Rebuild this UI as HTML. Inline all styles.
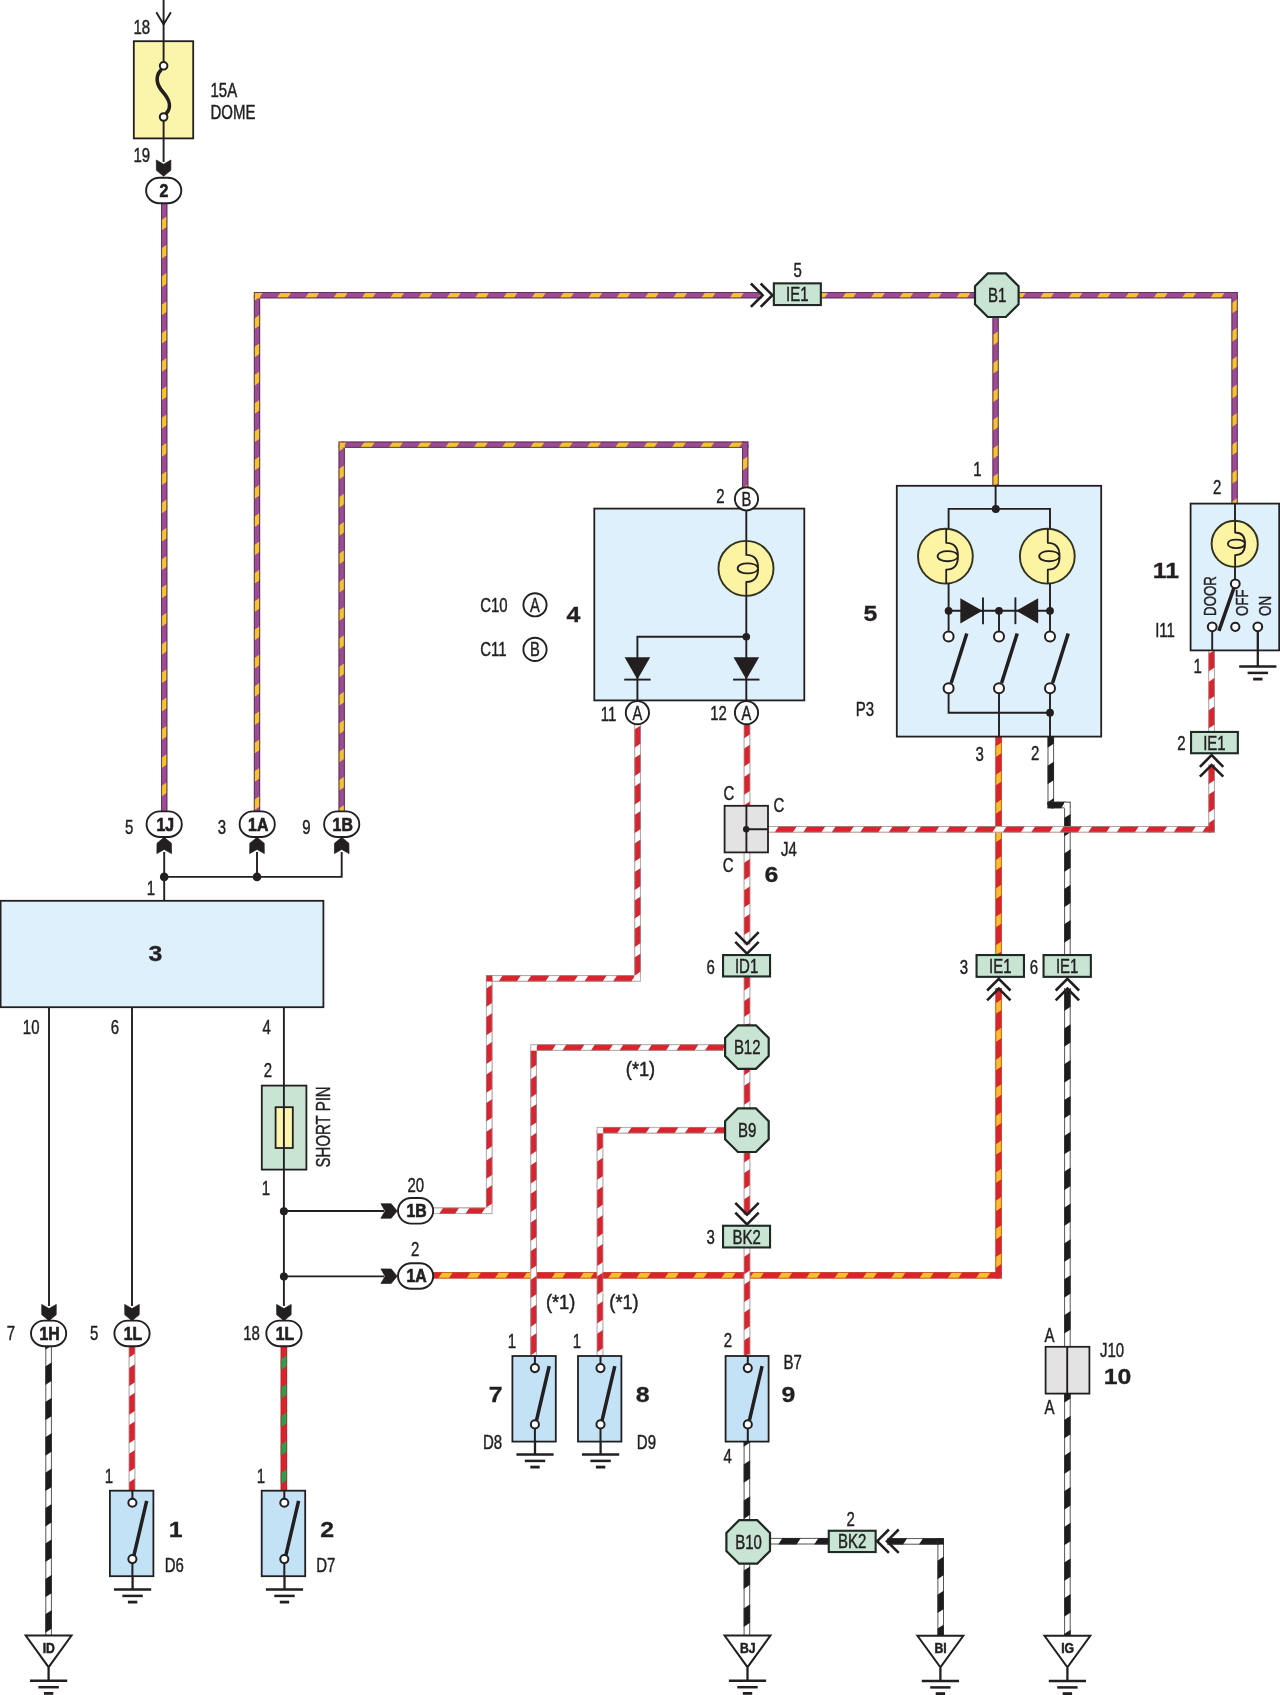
<!DOCTYPE html>
<html><head><meta charset="utf-8"><title>Wiring diagram</title>
<style>
html,body{margin:0;padding:0;background:#fff;}
svg{display:block;font-family:"Liberation Sans",sans-serif;}
</style></head>
<body>
<svg width="1280" height="1695" viewBox="0 0 1280 1695">
<rect width="1280" height="1695" fill="#ffffff"/>
<rect x="161.10" y="203.00" width="6.20" height="609.00" fill="#9c4c93"/><polygon points="161.10,220.20 167.30,216.00 167.30,226.60 161.10,230.80" fill="#f4c430"/><polygon points="161.10,248.50 167.30,244.30 167.30,254.90 161.10,259.10" fill="#f4c430"/><polygon points="161.10,276.80 167.30,272.60 167.30,283.20 161.10,287.40" fill="#f4c430"/><polygon points="161.10,305.10 167.30,300.90 167.30,311.50 161.10,315.70" fill="#f4c430"/><polygon points="161.10,333.40 167.30,329.20 167.30,339.80 161.10,344.00" fill="#f4c430"/><polygon points="161.10,361.70 167.30,357.50 167.30,368.10 161.10,372.30" fill="#f4c430"/><polygon points="161.10,390.00 167.30,385.80 167.30,396.40 161.10,400.60" fill="#f4c430"/><polygon points="161.10,418.30 167.30,414.10 167.30,424.70 161.10,428.90" fill="#f4c430"/><polygon points="161.10,446.60 167.30,442.40 167.30,453.00 161.10,457.20" fill="#f4c430"/><polygon points="161.10,474.90 167.30,470.70 167.30,481.30 161.10,485.50" fill="#f4c430"/><polygon points="161.10,503.20 167.30,499.00 167.30,509.60 161.10,513.80" fill="#f4c430"/><polygon points="161.10,531.50 167.30,527.30 167.30,537.90 161.10,542.10" fill="#f4c430"/><polygon points="161.10,559.80 167.30,555.60 167.30,566.20 161.10,570.40" fill="#f4c430"/><polygon points="161.10,588.10 167.30,583.90 167.30,594.50 161.10,598.70" fill="#f4c430"/><polygon points="161.10,616.40 167.30,612.20 167.30,622.80 161.10,627.00" fill="#f4c430"/><polygon points="161.10,644.70 167.30,640.50 167.30,651.10 161.10,655.30" fill="#f4c430"/><polygon points="161.10,673.00 167.30,668.80 167.30,679.40 161.10,683.60" fill="#f4c430"/><polygon points="161.10,701.30 167.30,697.10 167.30,707.70 161.10,711.90" fill="#f4c430"/><polygon points="161.10,729.60 167.30,725.40 167.30,736.00 161.10,740.20" fill="#f4c430"/><polygon points="161.10,757.90 167.30,753.70 167.30,764.30 161.10,768.50" fill="#f4c430"/><polygon points="161.10,786.20 167.30,782.00 167.30,792.60 161.10,796.80" fill="#f4c430"/><polygon points="161.10,812.00 167.30,810.30 167.30,812.00 161.10,812.00" fill="#f4c430"/><path d="M161.55,203.00V812.00M166.85,203.00V812.00" stroke="#5a2a58" stroke-width="0.9" fill="none"/>
<rect x="253.90" y="295.20" width="6.20" height="516.80" fill="#9c4c93"/><polygon points="253.90,295.20 260.10,295.20 260.10,296.90 253.90,301.10" fill="#f4c430"/><polygon points="253.90,318.80 260.10,314.60 260.10,325.20 253.90,329.40" fill="#f4c430"/><polygon points="253.90,347.10 260.10,342.90 260.10,353.50 253.90,357.70" fill="#f4c430"/><polygon points="253.90,375.40 260.10,371.20 260.10,381.80 253.90,386.00" fill="#f4c430"/><polygon points="253.90,403.70 260.10,399.50 260.10,410.10 253.90,414.30" fill="#f4c430"/><polygon points="253.90,432.00 260.10,427.80 260.10,438.40 253.90,442.60" fill="#f4c430"/><polygon points="253.90,460.30 260.10,456.10 260.10,466.70 253.90,470.90" fill="#f4c430"/><polygon points="253.90,488.60 260.10,484.40 260.10,495.00 253.90,499.20" fill="#f4c430"/><polygon points="253.90,516.90 260.10,512.70 260.10,523.30 253.90,527.50" fill="#f4c430"/><polygon points="253.90,545.20 260.10,541.00 260.10,551.60 253.90,555.80" fill="#f4c430"/><polygon points="253.90,573.50 260.10,569.30 260.10,579.90 253.90,584.10" fill="#f4c430"/><polygon points="253.90,601.80 260.10,597.60 260.10,608.20 253.90,612.40" fill="#f4c430"/><polygon points="253.90,630.10 260.10,625.90 260.10,636.50 253.90,640.70" fill="#f4c430"/><polygon points="253.90,658.40 260.10,654.20 260.10,664.80 253.90,669.00" fill="#f4c430"/><polygon points="253.90,686.70 260.10,682.50 260.10,693.10 253.90,697.30" fill="#f4c430"/><polygon points="253.90,715.00 260.10,710.80 260.10,721.40 253.90,725.60" fill="#f4c430"/><polygon points="253.90,743.30 260.10,739.10 260.10,749.70 253.90,753.90" fill="#f4c430"/><polygon points="253.90,771.60 260.10,767.40 260.10,778.00 253.90,782.20" fill="#f4c430"/><polygon points="253.90,799.90 260.10,795.70 260.10,806.30 253.90,810.50" fill="#f4c430"/><path d="M254.35,295.20V812.00M259.65,295.20V812.00" stroke="#5a2a58" stroke-width="0.9" fill="none"/>
<rect x="257.00" y="292.10" width="505.00" height="6.20" fill="#9c4c93"/><polygon points="257.00,292.10 263.20,292.10 259.00,298.30 257.00,298.30" fill="#f4c430"/><polygon points="280.90,292.10 291.50,292.10 287.30,298.30 276.70,298.30" fill="#f4c430"/><polygon points="309.20,292.10 319.80,292.10 315.60,298.30 305.00,298.30" fill="#f4c430"/><polygon points="337.50,292.10 348.10,292.10 343.90,298.30 333.30,298.30" fill="#f4c430"/><polygon points="365.80,292.10 376.40,292.10 372.20,298.30 361.60,298.30" fill="#f4c430"/><polygon points="394.10,292.10 404.70,292.10 400.50,298.30 389.90,298.30" fill="#f4c430"/><polygon points="422.40,292.10 433.00,292.10 428.80,298.30 418.20,298.30" fill="#f4c430"/><polygon points="450.70,292.10 461.30,292.10 457.10,298.30 446.50,298.30" fill="#f4c430"/><polygon points="479.00,292.10 489.60,292.10 485.40,298.30 474.80,298.30" fill="#f4c430"/><polygon points="507.30,292.10 517.90,292.10 513.70,298.30 503.10,298.30" fill="#f4c430"/><polygon points="535.60,292.10 546.20,292.10 542.00,298.30 531.40,298.30" fill="#f4c430"/><polygon points="563.90,292.10 574.50,292.10 570.30,298.30 559.70,298.30" fill="#f4c430"/><polygon points="592.20,292.10 602.80,292.10 598.60,298.30 588.00,298.30" fill="#f4c430"/><polygon points="620.50,292.10 631.10,292.10 626.90,298.30 616.30,298.30" fill="#f4c430"/><polygon points="648.80,292.10 659.40,292.10 655.20,298.30 644.60,298.30" fill="#f4c430"/><polygon points="677.10,292.10 687.70,292.10 683.50,298.30 672.90,298.30" fill="#f4c430"/><polygon points="705.40,292.10 716.00,292.10 711.80,298.30 701.20,298.30" fill="#f4c430"/><polygon points="733.70,292.10 744.30,292.10 740.10,298.30 729.50,298.30" fill="#f4c430"/><polygon points="762.00,292.10 762.00,292.10 762.00,298.30 757.80,298.30" fill="#f4c430"/><path d="M257.00,292.55H762.00M257.00,297.85H762.00" stroke="#5a2a58" stroke-width="0.9" fill="none"/>
<rect x="253.90" y="292.10" width="6.20" height="6.20" fill="#f4c430"/>
<path d="M260.10,292.55H253.90M254.35,298.30V292.10" stroke="#5a2a58" stroke-width="0.9" fill="none"/>
<rect x="821.40" y="292.10" width="153.60" height="6.20" fill="#9c4c93"/><polygon points="821.40,292.10 828.40,292.10 824.20,298.30 821.40,298.30" fill="#f4c430"/><polygon points="846.30,292.10 856.90,292.10 852.70,298.30 842.10,298.30" fill="#f4c430"/><polygon points="874.80,292.10 885.40,292.10 881.20,298.30 870.60,298.30" fill="#f4c430"/><polygon points="903.30,292.10 913.90,292.10 909.70,298.30 899.10,298.30" fill="#f4c430"/><polygon points="931.80,292.10 942.40,292.10 938.20,298.30 927.60,298.30" fill="#f4c430"/><polygon points="960.30,292.10 970.90,292.10 966.70,298.30 956.10,298.30" fill="#f4c430"/><path d="M821.40,292.55H975.00M821.40,297.85H975.00" stroke="#5a2a58" stroke-width="0.9" fill="none"/>
<rect x="1019.00" y="292.10" width="215.60" height="6.20" fill="#9c4c93"/><polygon points="1019.00,292.10 1026.20,292.10 1022.00,298.30 1019.00,298.30" fill="#f4c430"/><polygon points="1044.00,292.10 1054.60,292.10 1050.40,298.30 1039.80,298.30" fill="#f4c430"/><polygon points="1072.40,292.10 1083.00,292.10 1078.80,298.30 1068.20,298.30" fill="#f4c430"/><polygon points="1100.80,292.10 1111.40,292.10 1107.20,298.30 1096.60,298.30" fill="#f4c430"/><polygon points="1129.20,292.10 1139.80,292.10 1135.60,298.30 1125.00,298.30" fill="#f4c430"/><polygon points="1157.60,292.10 1168.20,292.10 1164.00,298.30 1153.40,298.30" fill="#f4c430"/><polygon points="1186.00,292.10 1196.60,292.10 1192.40,298.30 1181.80,298.30" fill="#f4c430"/><polygon points="1214.40,292.10 1225.00,292.10 1220.80,298.30 1210.20,298.30" fill="#f4c430"/><path d="M1019.00,292.55H1234.60M1019.00,297.85H1234.60" stroke="#5a2a58" stroke-width="0.9" fill="none"/>
<rect x="1231.50" y="295.20" width="6.20" height="208.40" fill="#9c4c93"/><polygon points="1231.50,303.10 1237.70,298.90 1237.70,309.50 1231.50,313.70" fill="#f4c430"/><polygon points="1231.50,331.50 1237.70,327.30 1237.70,337.90 1231.50,342.10" fill="#f4c430"/><polygon points="1231.50,359.90 1237.70,355.70 1237.70,366.30 1231.50,370.50" fill="#f4c430"/><polygon points="1231.50,388.30 1237.70,384.10 1237.70,394.70 1231.50,398.90" fill="#f4c430"/><polygon points="1231.50,416.70 1237.70,412.50 1237.70,423.10 1231.50,427.30" fill="#f4c430"/><polygon points="1231.50,445.10 1237.70,440.90 1237.70,451.50 1231.50,455.70" fill="#f4c430"/><polygon points="1231.50,473.50 1237.70,469.30 1237.70,479.90 1231.50,484.10" fill="#f4c430"/><polygon points="1231.50,501.90 1237.70,497.70 1237.70,503.60 1231.50,503.60" fill="#f4c430"/><path d="M1231.95,295.20V503.60M1237.25,295.20V503.60" stroke="#5a2a58" stroke-width="0.9" fill="none"/>
<rect x="1231.50" y="292.10" width="6.20" height="6.20" fill="#9c4c93"/>
<path d="M1231.50,292.55H1237.70M1237.25,298.30V292.10" stroke="#5a2a58" stroke-width="0.9" fill="none"/>
<rect x="992.50" y="317.00" width="6.20" height="168.70" fill="#9c4c93"/><polygon points="992.50,317.00 998.70,317.00 998.70,317.00 992.50,317.30" fill="#f4c430"/><polygon points="992.50,335.10 998.70,330.90 998.70,341.50 992.50,345.70" fill="#f4c430"/><polygon points="992.50,363.50 998.70,359.30 998.70,369.90 992.50,374.10" fill="#f4c430"/><polygon points="992.50,391.90 998.70,387.70 998.70,398.30 992.50,402.50" fill="#f4c430"/><polygon points="992.50,420.30 998.70,416.10 998.70,426.70 992.50,430.90" fill="#f4c430"/><polygon points="992.50,448.70 998.70,444.50 998.70,455.10 992.50,459.30" fill="#f4c430"/><polygon points="992.50,477.10 998.70,472.90 998.70,483.50 992.50,485.70" fill="#f4c430"/><path d="M992.95,317.00V485.70M998.25,317.00V485.70" stroke="#5a2a58" stroke-width="0.9" fill="none"/>
<rect x="338.60" y="444.70" width="6.20" height="367.30" fill="#9c4c93"/><polygon points="338.60,444.70 344.80,444.70 344.80,447.20 338.60,451.40" fill="#f4c430"/><polygon points="338.60,469.10 344.80,464.90 344.80,475.50 338.60,479.70" fill="#f4c430"/><polygon points="338.60,497.40 344.80,493.20 344.80,503.80 338.60,508.00" fill="#f4c430"/><polygon points="338.60,525.70 344.80,521.50 344.80,532.10 338.60,536.30" fill="#f4c430"/><polygon points="338.60,554.00 344.80,549.80 344.80,560.40 338.60,564.60" fill="#f4c430"/><polygon points="338.60,582.30 344.80,578.10 344.80,588.70 338.60,592.90" fill="#f4c430"/><polygon points="338.60,610.60 344.80,606.40 344.80,617.00 338.60,621.20" fill="#f4c430"/><polygon points="338.60,638.90 344.80,634.70 344.80,645.30 338.60,649.50" fill="#f4c430"/><polygon points="338.60,667.20 344.80,663.00 344.80,673.60 338.60,677.80" fill="#f4c430"/><polygon points="338.60,695.50 344.80,691.30 344.80,701.90 338.60,706.10" fill="#f4c430"/><polygon points="338.60,723.80 344.80,719.60 344.80,730.20 338.60,734.40" fill="#f4c430"/><polygon points="338.60,752.10 344.80,747.90 344.80,758.50 338.60,762.70" fill="#f4c430"/><polygon points="338.60,780.40 344.80,776.20 344.80,786.80 338.60,791.00" fill="#f4c430"/><polygon points="338.60,808.70 344.80,804.50 344.80,812.00 338.60,812.00" fill="#f4c430"/><path d="M339.05,444.70V812.00M344.35,444.70V812.00" stroke="#5a2a58" stroke-width="0.9" fill="none"/>
<rect x="341.70" y="441.60" width="403.50" height="6.20" fill="#9c4c93"/><polygon points="341.70,441.60 346.90,441.60 342.70,447.80 341.70,447.80" fill="#f4c430"/><polygon points="364.60,441.60 375.20,441.60 371.00,447.80 360.40,447.80" fill="#f4c430"/><polygon points="392.90,441.60 403.50,441.60 399.30,447.80 388.70,447.80" fill="#f4c430"/><polygon points="421.20,441.60 431.80,441.60 427.60,447.80 417.00,447.80" fill="#f4c430"/><polygon points="449.50,441.60 460.10,441.60 455.90,447.80 445.30,447.80" fill="#f4c430"/><polygon points="477.80,441.60 488.40,441.60 484.20,447.80 473.60,447.80" fill="#f4c430"/><polygon points="506.10,441.60 516.70,441.60 512.50,447.80 501.90,447.80" fill="#f4c430"/><polygon points="534.40,441.60 545.00,441.60 540.80,447.80 530.20,447.80" fill="#f4c430"/><polygon points="562.70,441.60 573.30,441.60 569.10,447.80 558.50,447.80" fill="#f4c430"/><polygon points="591.00,441.60 601.60,441.60 597.40,447.80 586.80,447.80" fill="#f4c430"/><polygon points="619.30,441.60 629.90,441.60 625.70,447.80 615.10,447.80" fill="#f4c430"/><polygon points="647.60,441.60 658.20,441.60 654.00,447.80 643.40,447.80" fill="#f4c430"/><polygon points="675.90,441.60 686.50,441.60 682.30,447.80 671.70,447.80" fill="#f4c430"/><polygon points="704.20,441.60 714.80,441.60 710.60,447.80 700.00,447.80" fill="#f4c430"/><polygon points="732.50,441.60 743.10,441.60 738.90,447.80 728.30,447.80" fill="#f4c430"/><path d="M341.70,442.05H745.20M341.70,447.35H745.20" stroke="#5a2a58" stroke-width="0.9" fill="none"/>
<rect x="742.10" y="444.70" width="6.20" height="42.80" fill="#9c4c93"/><polygon points="742.10,460.20 748.30,456.00 748.30,466.60 742.10,470.80" fill="#f4c430"/><polygon points="742.10,487.50 748.30,484.30 748.30,487.50 742.10,487.50" fill="#f4c430"/><path d="M742.55,444.70V487.50M747.85,444.70V487.50" stroke="#5a2a58" stroke-width="0.9" fill="none"/>
<rect x="338.60" y="441.60" width="6.20" height="6.20" fill="#f4c430"/>
<path d="M344.80,442.05H338.60M339.05,447.80V441.60" stroke="#5a2a58" stroke-width="0.9" fill="none"/>
<rect x="742.10" y="441.60" width="6.20" height="6.20" fill="#9c4c93"/>
<path d="M742.10,442.05H748.30M747.85,447.80V441.60" stroke="#5a2a58" stroke-width="0.9" fill="none"/>
<rect x="433.00" y="1272.15" width="565.60" height="6.30" fill="#d9232d"/><polygon points="442.30,1272.15 452.90,1272.15 448.70,1278.45 438.10,1278.45" fill="#f5c02c"/><polygon points="470.60,1272.15 481.20,1272.15 477.00,1278.45 466.40,1278.45" fill="#f5c02c"/><polygon points="498.90,1272.15 509.50,1272.15 505.30,1278.45 494.70,1278.45" fill="#f5c02c"/><polygon points="527.20,1272.15 537.80,1272.15 533.60,1278.45 523.00,1278.45" fill="#f5c02c"/><polygon points="555.50,1272.15 566.10,1272.15 561.90,1278.45 551.30,1278.45" fill="#f5c02c"/><polygon points="583.80,1272.15 594.40,1272.15 590.20,1278.45 579.60,1278.45" fill="#f5c02c"/><polygon points="612.10,1272.15 622.70,1272.15 618.50,1278.45 607.90,1278.45" fill="#f5c02c"/><polygon points="640.40,1272.15 651.00,1272.15 646.80,1278.45 636.20,1278.45" fill="#f5c02c"/><polygon points="668.70,1272.15 679.30,1272.15 675.10,1278.45 664.50,1278.45" fill="#f5c02c"/><polygon points="697.00,1272.15 707.60,1272.15 703.40,1278.45 692.80,1278.45" fill="#f5c02c"/><polygon points="725.30,1272.15 735.90,1272.15 731.70,1278.45 721.10,1278.45" fill="#f5c02c"/><polygon points="753.60,1272.15 764.20,1272.15 760.00,1278.45 749.40,1278.45" fill="#f5c02c"/><polygon points="781.90,1272.15 792.50,1272.15 788.30,1278.45 777.70,1278.45" fill="#f5c02c"/><polygon points="810.20,1272.15 820.80,1272.15 816.60,1278.45 806.00,1278.45" fill="#f5c02c"/><polygon points="838.50,1272.15 849.10,1272.15 844.90,1278.45 834.30,1278.45" fill="#f5c02c"/><polygon points="866.80,1272.15 877.40,1272.15 873.20,1278.45 862.60,1278.45" fill="#f5c02c"/><polygon points="895.10,1272.15 905.70,1272.15 901.50,1278.45 890.90,1278.45" fill="#f5c02c"/><polygon points="923.40,1272.15 934.00,1272.15 929.80,1278.45 919.20,1278.45" fill="#f5c02c"/><polygon points="951.70,1272.15 962.30,1272.15 958.10,1278.45 947.50,1278.45" fill="#f5c02c"/><polygon points="980.00,1272.15 990.60,1272.15 986.40,1278.45 975.80,1278.45" fill="#f5c02c"/><path d="M433.00,1272.50H998.60M433.00,1278.10H998.60" stroke="#c2452a" stroke-width="0.7" fill="none"/>
<rect x="995.45" y="988.00" width="6.30" height="287.30" fill="#d9232d"/><polygon points="995.45,1003.50 1001.75,999.30 1001.75,1009.90 995.45,1014.10" fill="#f5c02c"/><polygon points="995.45,1031.70 1001.75,1027.50 1001.75,1038.10 995.45,1042.30" fill="#f5c02c"/><polygon points="995.45,1059.90 1001.75,1055.70 1001.75,1066.30 995.45,1070.50" fill="#f5c02c"/><polygon points="995.45,1088.10 1001.75,1083.90 1001.75,1094.50 995.45,1098.70" fill="#f5c02c"/><polygon points="995.45,1116.30 1001.75,1112.10 1001.75,1122.70 995.45,1126.90" fill="#f5c02c"/><polygon points="995.45,1144.50 1001.75,1140.30 1001.75,1150.90 995.45,1155.10" fill="#f5c02c"/><polygon points="995.45,1172.70 1001.75,1168.50 1001.75,1179.10 995.45,1183.30" fill="#f5c02c"/><polygon points="995.45,1200.90 1001.75,1196.70 1001.75,1207.30 995.45,1211.50" fill="#f5c02c"/><polygon points="995.45,1229.10 1001.75,1224.90 1001.75,1235.50 995.45,1239.70" fill="#f5c02c"/><polygon points="995.45,1257.30 1001.75,1253.10 1001.75,1263.70 995.45,1267.90" fill="#f5c02c"/><path d="M995.80,988.00V1275.30M1001.40,988.00V1275.30" stroke="#c2452a" stroke-width="0.7" fill="none"/>
<rect x="995.45" y="1272.15" width="6.30" height="6.30" fill="#d9232d"/>
<path d="M995.45,1278.10H1001.75M1001.40,1272.15V1278.45" stroke="#c2452a" stroke-width="0.7" fill="none"/>
<rect x="995.45" y="736.60" width="6.30" height="217.80" fill="#d9232d"/><polygon points="995.45,746.60 1001.75,742.40 1001.75,753.00 995.45,757.20" fill="#f5c02c"/><polygon points="995.45,775.00 1001.75,770.80 1001.75,781.40 995.45,785.60" fill="#f5c02c"/><polygon points="995.45,803.40 1001.75,799.20 1001.75,809.80 995.45,814.00" fill="#f5c02c"/><polygon points="995.45,831.80 1001.75,827.60 1001.75,838.20 995.45,842.40" fill="#f5c02c"/><polygon points="995.45,860.20 1001.75,856.00 1001.75,866.60 995.45,870.80" fill="#f5c02c"/><polygon points="995.45,888.60 1001.75,884.40 1001.75,895.00 995.45,899.20" fill="#f5c02c"/><polygon points="995.45,917.00 1001.75,912.80 1001.75,923.40 995.45,927.60" fill="#f5c02c"/><polygon points="995.45,945.40 1001.75,941.20 1001.75,951.80 995.45,954.40" fill="#f5c02c"/><path d="M995.80,736.60V954.40M1001.40,736.60V954.40" stroke="#c2452a" stroke-width="0.7" fill="none"/>
<rect x="1047.60" y="736.60" width="6.40" height="68.40" fill="#ffffff"/><polygon points="1047.60,736.60 1054.00,736.60 1054.00,743.50 1047.60,747.70" fill="#1d1d1d"/><polygon points="1047.60,765.80 1054.00,761.60 1054.00,780.00 1047.60,784.20" fill="#1d1d1d"/><polygon points="1047.60,802.30 1054.00,798.10 1054.00,805.00 1047.60,805.00" fill="#1d1d1d"/><path d="M1048.00,736.60V805.00M1053.60,736.60V805.00" stroke="#2a2a2a" stroke-width="0.8" fill="none"/>
<rect x="1050.80" y="801.80" width="16.60" height="6.40" fill="#ffffff"/><polygon points="1050.80,801.80 1065.30,801.80 1061.10,808.20 1050.80,808.20" fill="#1d1d1d"/><path d="M1050.80,802.20H1067.40M1050.80,807.80H1067.40" stroke="#2a2a2a" stroke-width="0.8" fill="none"/>
<rect x="1064.20" y="805.00" width="6.40" height="149.40" fill="#ffffff"/><polygon points="1064.20,818.10 1070.60,813.90 1070.60,832.30 1064.20,836.50" fill="#1d1d1d"/><polygon points="1064.20,853.50 1070.60,849.30 1070.60,867.70 1064.20,871.90" fill="#1d1d1d"/><polygon points="1064.20,888.90 1070.60,884.70 1070.60,903.10 1064.20,907.30" fill="#1d1d1d"/><polygon points="1064.20,924.30 1070.60,920.10 1070.60,938.50 1064.20,942.70" fill="#1d1d1d"/><path d="M1064.60,805.00V954.40M1070.20,805.00V954.40" stroke="#2a2a2a" stroke-width="0.8" fill="none"/>
<rect x="1047.60" y="801.80" width="6.40" height="6.40" fill="#1d1d1d"/>
<path d="M1054.00,807.80H1047.60M1048.00,801.80V808.20" stroke="#2a2a2a" stroke-width="0.8" fill="none"/>
<rect x="1064.20" y="801.80" width="6.40" height="6.40" fill="#ffffff"/>
<path d="M1064.20,802.20H1070.60M1070.20,808.20V801.80" stroke="#2a2a2a" stroke-width="0.8" fill="none"/>
<rect x="1064.20" y="988.00" width="6.40" height="358.70" fill="#ffffff"/><polygon points="1064.20,992.55 1070.60,988.35 1070.60,1006.75 1064.20,1010.95" fill="#1d1d1d"/><polygon points="1064.20,1028.40 1070.60,1024.20 1070.60,1042.60 1064.20,1046.80" fill="#1d1d1d"/><polygon points="1064.20,1064.25 1070.60,1060.05 1070.60,1078.45 1064.20,1082.65" fill="#1d1d1d"/><polygon points="1064.20,1100.10 1070.60,1095.90 1070.60,1114.30 1064.20,1118.50" fill="#1d1d1d"/><polygon points="1064.20,1135.95 1070.60,1131.75 1070.60,1150.15 1064.20,1154.35" fill="#1d1d1d"/><polygon points="1064.20,1171.80 1070.60,1167.60 1070.60,1186.00 1064.20,1190.20" fill="#1d1d1d"/><polygon points="1064.20,1207.65 1070.60,1203.45 1070.60,1221.85 1064.20,1226.05" fill="#1d1d1d"/><polygon points="1064.20,1243.50 1070.60,1239.30 1070.60,1257.70 1064.20,1261.90" fill="#1d1d1d"/><polygon points="1064.20,1279.35 1070.60,1275.15 1070.60,1293.55 1064.20,1297.75" fill="#1d1d1d"/><polygon points="1064.20,1315.20 1070.60,1311.00 1070.60,1329.40 1064.20,1333.60" fill="#1d1d1d"/><path d="M1064.60,988.00V1346.70M1070.20,988.00V1346.70" stroke="#2a2a2a" stroke-width="0.8" fill="none"/>
<rect x="1064.20" y="1393.60" width="6.40" height="241.90" fill="#ffffff"/><polygon points="1064.20,1393.60 1070.60,1393.60 1070.60,1398.55 1064.20,1402.75" fill="#1d1d1d"/><polygon points="1064.20,1420.00 1070.60,1415.80 1070.60,1434.20 1064.20,1438.40" fill="#1d1d1d"/><polygon points="1064.20,1455.65 1070.60,1451.45 1070.60,1469.85 1064.20,1474.05" fill="#1d1d1d"/><polygon points="1064.20,1491.30 1070.60,1487.10 1070.60,1505.50 1064.20,1509.70" fill="#1d1d1d"/><polygon points="1064.20,1526.95 1070.60,1522.75 1070.60,1541.15 1064.20,1545.35" fill="#1d1d1d"/><polygon points="1064.20,1562.60 1070.60,1558.40 1070.60,1576.80 1064.20,1581.00" fill="#1d1d1d"/><polygon points="1064.20,1598.25 1070.60,1594.05 1070.60,1612.45 1064.20,1616.65" fill="#1d1d1d"/><polygon points="1064.20,1633.90 1070.60,1629.70 1070.60,1635.50 1064.20,1635.50" fill="#1d1d1d"/><path d="M1064.60,1393.60V1635.50M1070.20,1393.60V1635.50" stroke="#2a2a2a" stroke-width="0.8" fill="none"/>
<rect x="45.40" y="1346.00" width="6.40" height="289.30" fill="#ffffff"/><polygon points="45.40,1346.00 51.80,1346.00 51.80,1346.00 45.40,1349.50" fill="#1d1d1d"/><polygon points="45.40,1366.50 51.80,1362.30 51.80,1380.70 45.40,1384.90" fill="#1d1d1d"/><polygon points="45.40,1401.90 51.80,1397.70 51.80,1416.10 45.40,1420.30" fill="#1d1d1d"/><polygon points="45.40,1437.30 51.80,1433.10 51.80,1451.50 45.40,1455.70" fill="#1d1d1d"/><polygon points="45.40,1472.70 51.80,1468.50 51.80,1486.90 45.40,1491.10" fill="#1d1d1d"/><polygon points="45.40,1508.10 51.80,1503.90 51.80,1522.30 45.40,1526.50" fill="#1d1d1d"/><polygon points="45.40,1543.50 51.80,1539.30 51.80,1557.70 45.40,1561.90" fill="#1d1d1d"/><polygon points="45.40,1578.90 51.80,1574.70 51.80,1593.10 45.40,1597.30" fill="#1d1d1d"/><polygon points="45.40,1614.30 51.80,1610.10 51.80,1628.50 45.40,1632.70" fill="#1d1d1d"/><path d="M45.80,1346.00V1635.30M51.40,1346.00V1635.30" stroke="#2a2a2a" stroke-width="0.8" fill="none"/>
<rect x="743.70" y="1441.60" width="6.40" height="78.40" fill="#ffffff"/><polygon points="743.70,1441.60 750.10,1441.60 750.10,1442.50 743.70,1446.70" fill="#1d1d1d"/><polygon points="743.70,1464.40 750.10,1460.20 750.10,1478.60 743.70,1482.80" fill="#1d1d1d"/><polygon points="743.70,1500.50 750.10,1496.30 750.10,1514.70 743.70,1518.90" fill="#1d1d1d"/><path d="M744.10,1441.60V1520.00M749.70,1441.60V1520.00" stroke="#2a2a2a" stroke-width="0.8" fill="none"/>
<rect x="743.70" y="1564.00" width="6.40" height="71.30" fill="#ffffff"/><polygon points="743.70,1570.60 750.10,1566.40 750.10,1584.80 743.70,1589.00" fill="#1d1d1d"/><polygon points="743.70,1608.50 750.10,1604.30 750.10,1622.70 743.70,1626.90" fill="#1d1d1d"/><path d="M744.10,1564.00V1635.30M749.70,1564.00V1635.30" stroke="#2a2a2a" stroke-width="0.8" fill="none"/>
<rect x="770.00" y="1538.00" width="58.10" height="6.40" fill="#ffffff"/><polygon points="782.40,1538.00 800.80,1538.00 796.60,1544.40 778.20,1544.40" fill="#1d1d1d"/><polygon points="818.40,1538.00 828.10,1538.00 828.10,1544.40 814.20,1544.40" fill="#1d1d1d"/><path d="M770.00,1538.40H828.10M770.00,1544.00H828.10" stroke="#2a2a2a" stroke-width="0.8" fill="none"/>
<rect x="887.30" y="1538.20" width="53.40" height="6.40" fill="#ffffff"/><polygon points="888.80,1538.20 907.20,1538.20 903.00,1544.60 887.30,1544.60" fill="#1d1d1d"/><polygon points="923.10,1538.20 940.70,1538.20 937.30,1544.60 918.90,1544.60" fill="#1d1d1d"/><path d="M887.30,1538.60H940.70M887.30,1544.20H940.70" stroke="#2a2a2a" stroke-width="0.8" fill="none"/>
<rect x="937.50" y="1541.40" width="6.40" height="94.10" fill="#ffffff"/><polygon points="937.50,1541.40 943.90,1541.40 943.90,1541.40 937.50,1545.30" fill="#1d1d1d"/><polygon points="937.50,1560.80 943.90,1556.60 943.90,1575.00 937.50,1579.20" fill="#1d1d1d"/><polygon points="937.50,1594.70 943.90,1590.50 943.90,1608.90 937.50,1613.10" fill="#1d1d1d"/><polygon points="937.50,1628.60 943.90,1624.40 943.90,1635.50 937.50,1635.50" fill="#1d1d1d"/><path d="M937.90,1541.40V1635.50M943.50,1541.40V1635.50" stroke="#2a2a2a" stroke-width="0.8" fill="none"/>
<rect x="937.50" y="1538.20" width="6.40" height="6.40" fill="#1d1d1d"/>
<path d="M937.50,1538.60H943.90M943.50,1544.60V1538.20" stroke="#2a2a2a" stroke-width="0.8" fill="none"/>
<rect x="634.45" y="725.00" width="6.30" height="253.40" fill="#d9232d"/><polygon points="634.45,725.00 640.75,725.00 640.75,725.40 634.45,729.60" fill="#ffffff"/><polygon points="634.45,747.70 640.75,743.50 640.75,753.90 634.45,758.10" fill="#ffffff"/><polygon points="634.45,776.20 640.75,772.00 640.75,782.40 634.45,786.60" fill="#ffffff"/><polygon points="634.45,804.70 640.75,800.50 640.75,810.90 634.45,815.10" fill="#ffffff"/><polygon points="634.45,833.20 640.75,829.00 640.75,839.40 634.45,843.60" fill="#ffffff"/><polygon points="634.45,861.70 640.75,857.50 640.75,867.90 634.45,872.10" fill="#ffffff"/><polygon points="634.45,890.20 640.75,886.00 640.75,896.40 634.45,900.60" fill="#ffffff"/><polygon points="634.45,918.70 640.75,914.50 640.75,924.90 634.45,929.10" fill="#ffffff"/><polygon points="634.45,947.20 640.75,943.00 640.75,953.40 634.45,957.60" fill="#ffffff"/><polygon points="634.45,975.70 640.75,971.50 640.75,978.40 634.45,978.40" fill="#ffffff"/><path d="M634.80,725.00V978.40M640.40,725.00V978.40" stroke="#8f8f8f" stroke-width="0.7" fill="none"/>
<rect x="489.20" y="975.25" width="148.40" height="6.30" fill="#d9232d"/><polygon points="492.40,975.25 502.80,975.25 498.60,981.55 489.20,981.55" fill="#ffffff"/><polygon points="521.00,975.25 531.40,975.25 527.20,981.55 516.80,981.55" fill="#ffffff"/><polygon points="549.60,975.25 560.00,975.25 555.80,981.55 545.40,981.55" fill="#ffffff"/><polygon points="578.20,975.25 588.60,975.25 584.40,981.55 574.00,981.55" fill="#ffffff"/><polygon points="606.80,975.25 617.20,975.25 613.00,981.55 602.60,981.55" fill="#ffffff"/><polygon points="635.40,975.25 637.60,975.25 637.60,981.55 631.20,981.55" fill="#ffffff"/><path d="M489.20,975.60H637.60M489.20,981.20H637.60" stroke="#8f8f8f" stroke-width="0.7" fill="none"/>
<rect x="486.05" y="978.40" width="6.30" height="232.40" fill="#d9232d"/><polygon points="486.05,978.40 492.35,978.40 492.35,984.43 486.05,988.63" fill="#ffffff"/><polygon points="486.05,1006.90 492.35,1002.70 492.35,1013.10 486.05,1017.30" fill="#ffffff"/><polygon points="486.05,1035.57 492.35,1031.37 492.35,1041.77 486.05,1045.97" fill="#ffffff"/><polygon points="486.05,1064.24 492.35,1060.04 492.35,1070.44 486.05,1074.64" fill="#ffffff"/><polygon points="486.05,1092.91 492.35,1088.71 492.35,1099.11 486.05,1103.31" fill="#ffffff"/><polygon points="486.05,1121.58 492.35,1117.38 492.35,1127.78 486.05,1131.98" fill="#ffffff"/><polygon points="486.05,1150.25 492.35,1146.05 492.35,1156.45 486.05,1160.65" fill="#ffffff"/><polygon points="486.05,1178.92 492.35,1174.72 492.35,1185.12 486.05,1189.32" fill="#ffffff"/><polygon points="486.05,1207.59 492.35,1203.39 492.35,1210.80 486.05,1210.80" fill="#ffffff"/><path d="M486.40,978.40V1210.80M492.00,978.40V1210.80" stroke="#8f8f8f" stroke-width="0.7" fill="none"/>
<rect x="433.00" y="1207.65" width="56.20" height="6.30" fill="#d9232d"/><polygon points="433.00,1207.65 443.20,1207.65 439.00,1213.95 433.00,1213.95" fill="#ffffff"/><polygon points="459.10,1207.65 469.50,1207.65 465.30,1213.95 454.90,1213.95" fill="#ffffff"/><polygon points="485.40,1207.65 489.20,1207.65 489.20,1213.95 481.20,1213.95" fill="#ffffff"/><path d="M433.00,1208.00H489.20M433.00,1213.60H489.20" stroke="#8f8f8f" stroke-width="0.7" fill="none"/>
<rect x="634.45" y="975.25" width="6.30" height="6.30" fill="#ffffff"/>
<path d="M634.45,981.20H640.75M640.40,975.25V981.55" stroke="#8f8f8f" stroke-width="0.7" fill="none"/>
<rect x="486.05" y="975.25" width="6.30" height="6.30" fill="#d9232d"/>
<path d="M492.35,975.60H486.05M486.40,981.55V975.25" stroke="#8f8f8f" stroke-width="0.7" fill="none"/>
<rect x="486.05" y="1207.65" width="6.30" height="6.30" fill="#ffffff"/>
<path d="M486.05,1213.60H492.35M492.00,1207.65V1213.95" stroke="#8f8f8f" stroke-width="0.7" fill="none"/>
<rect x="743.85" y="725.00" width="6.30" height="80.80" fill="#d9232d"/><polygon points="743.85,738.40 750.15,734.20 750.15,744.60 743.85,748.80" fill="#ffffff"/><polygon points="743.85,766.70 750.15,762.50 750.15,772.90 743.85,777.10" fill="#ffffff"/><polygon points="743.85,795.00 750.15,790.80 750.15,801.20 743.85,805.40" fill="#ffffff"/><path d="M744.20,725.00V805.80M749.80,725.00V805.80" stroke="#8f8f8f" stroke-width="0.7" fill="none"/>
<rect x="743.85" y="852.50" width="6.30" height="91.80" fill="#d9232d"/><polygon points="743.85,852.60 750.15,852.50 750.15,858.80 743.85,863.00" fill="#ffffff"/><polygon points="743.85,880.10 750.15,875.90 750.15,886.30 743.85,890.50" fill="#ffffff"/><polygon points="743.85,907.60 750.15,903.40 750.15,913.80 743.85,918.00" fill="#ffffff"/><polygon points="743.85,935.10 750.15,930.90 750.15,941.30 743.85,944.30" fill="#ffffff"/><path d="M744.20,852.50V944.30M749.80,852.50V944.30" stroke="#8f8f8f" stroke-width="0.7" fill="none"/>
<rect x="743.85" y="977.00" width="6.30" height="48.00" fill="#d9232d"/><polygon points="743.85,990.80 750.15,986.60 750.15,997.00 743.85,1001.20" fill="#ffffff"/><polygon points="743.85,1017.10 750.15,1012.90 750.15,1023.30 743.85,1025.00" fill="#ffffff"/><path d="M744.20,977.00V1025.00M749.80,977.00V1025.00" stroke="#8f8f8f" stroke-width="0.7" fill="none"/>
<rect x="743.85" y="1069.00" width="6.30" height="39.50" fill="#d9232d"/><polygon points="743.85,1075.50 750.15,1071.30 750.15,1081.70 743.85,1085.90" fill="#ffffff"/><polygon points="743.85,1105.00 750.15,1100.80 750.15,1108.50 743.85,1108.50" fill="#ffffff"/><path d="M744.20,1069.00V1108.50M749.80,1069.00V1108.50" stroke="#8f8f8f" stroke-width="0.7" fill="none"/>
<rect x="743.85" y="1152.00" width="6.30" height="63.00" fill="#d9232d"/><polygon points="743.85,1162.80 750.15,1158.60 750.15,1169.00 743.85,1173.20" fill="#ffffff"/><polygon points="743.85,1189.10 750.15,1184.90 750.15,1195.30 743.85,1199.50" fill="#ffffff"/><polygon points="743.85,1215.00 750.15,1211.20 750.15,1215.00 743.85,1215.00" fill="#ffffff"/><path d="M744.20,1152.00V1215.00M749.80,1152.00V1215.00" stroke="#8f8f8f" stroke-width="0.7" fill="none"/>
<rect x="743.85" y="1248.00" width="6.30" height="107.60" fill="#d9232d"/><polygon points="743.85,1248.00 750.15,1248.00 750.15,1252.70 743.85,1256.90" fill="#ffffff"/><polygon points="743.85,1274.40 750.15,1270.20 750.15,1280.60 743.85,1284.80" fill="#ffffff"/><polygon points="743.85,1302.30 750.15,1298.10 750.15,1308.50 743.85,1312.70" fill="#ffffff"/><polygon points="743.85,1330.20 750.15,1326.00 750.15,1336.40 743.85,1340.60" fill="#ffffff"/><polygon points="743.85,1355.60 750.15,1353.90 750.15,1355.60 743.85,1355.60" fill="#ffffff"/><path d="M744.20,1248.00V1355.60M749.80,1248.00V1355.60" stroke="#8f8f8f" stroke-width="0.7" fill="none"/>
<rect x="533.60" y="1044.35" width="191.40" height="6.30" fill="#d9232d"/><polygon points="533.60,1044.35 538.00,1044.35 533.80,1050.65 533.60,1050.65" fill="#ffffff"/><polygon points="556.10,1044.35 566.50,1044.35 562.30,1050.65 551.90,1050.65" fill="#ffffff"/><polygon points="584.60,1044.35 595.00,1044.35 590.80,1050.65 580.40,1050.65" fill="#ffffff"/><polygon points="613.10,1044.35 623.50,1044.35 619.30,1050.65 608.90,1050.65" fill="#ffffff"/><polygon points="641.60,1044.35 652.00,1044.35 647.80,1050.65 637.40,1050.65" fill="#ffffff"/><polygon points="670.10,1044.35 680.50,1044.35 676.30,1050.65 665.90,1050.65" fill="#ffffff"/><polygon points="698.60,1044.35 709.00,1044.35 704.80,1050.65 694.40,1050.65" fill="#ffffff"/><polygon points="725.00,1044.35 725.00,1044.35 725.00,1050.65 722.90,1050.65" fill="#ffffff"/><path d="M533.60,1044.70H725.00M533.60,1050.30H725.00" stroke="#8f8f8f" stroke-width="0.7" fill="none"/>
<rect x="530.45" y="1047.50" width="6.30" height="308.10" fill="#d9232d"/><polygon points="530.45,1047.50 536.75,1047.50 536.75,1047.50 530.45,1050.80" fill="#ffffff"/><polygon points="530.45,1069.05 536.75,1064.85 536.75,1075.25 530.45,1079.45" fill="#ffffff"/><polygon points="530.45,1097.70 536.75,1093.50 536.75,1103.90 530.45,1108.10" fill="#ffffff"/><polygon points="530.45,1126.35 536.75,1122.15 536.75,1132.55 530.45,1136.75" fill="#ffffff"/><polygon points="530.45,1155.00 536.75,1150.80 536.75,1161.20 530.45,1165.40" fill="#ffffff"/><polygon points="530.45,1183.65 536.75,1179.45 536.75,1189.85 530.45,1194.05" fill="#ffffff"/><polygon points="530.45,1212.30 536.75,1208.10 536.75,1218.50 530.45,1222.70" fill="#ffffff"/><polygon points="530.45,1240.95 536.75,1236.75 536.75,1247.15 530.45,1251.35" fill="#ffffff"/><polygon points="530.45,1269.60 536.75,1265.40 536.75,1275.80 530.45,1280.00" fill="#ffffff"/><polygon points="530.45,1298.25 536.75,1294.05 536.75,1304.45 530.45,1308.65" fill="#ffffff"/><polygon points="530.45,1326.90 536.75,1322.70 536.75,1333.10 530.45,1337.30" fill="#ffffff"/><polygon points="530.45,1355.55 536.75,1351.35 536.75,1355.60 530.45,1355.60" fill="#ffffff"/><path d="M530.80,1047.50V1355.60M536.40,1047.50V1355.60" stroke="#8f8f8f" stroke-width="0.7" fill="none"/>
<rect x="530.45" y="1044.35" width="6.30" height="6.30" fill="#ffffff"/>
<path d="M536.75,1044.70H530.45M530.80,1050.65V1044.35" stroke="#8f8f8f" stroke-width="0.7" fill="none"/>
<rect x="600.00" y="1127.05" width="125.00" height="6.30" fill="#d9232d"/><polygon points="600.00,1127.05 603.20,1127.05 600.00,1133.35 600.00,1133.35" fill="#ffffff"/><polygon points="621.40,1127.05 631.80,1127.05 627.60,1133.35 617.20,1133.35" fill="#ffffff"/><polygon points="650.00,1127.05 660.40,1127.05 656.20,1133.35 645.80,1133.35" fill="#ffffff"/><polygon points="678.60,1127.05 689.00,1127.05 684.80,1133.35 674.40,1133.35" fill="#ffffff"/><polygon points="707.20,1127.05 717.60,1127.05 713.40,1133.35 703.00,1133.35" fill="#ffffff"/><path d="M600.00,1127.40H725.00M600.00,1133.00H725.00" stroke="#8f8f8f" stroke-width="0.7" fill="none"/>
<rect x="596.85" y="1130.20" width="6.30" height="225.40" fill="#d9232d"/><polygon points="596.85,1130.20 603.15,1130.20 603.15,1130.20 596.85,1133.10" fill="#ffffff"/><polygon points="596.85,1151.40 603.15,1147.20 603.15,1157.60 596.85,1161.80" fill="#ffffff"/><polygon points="596.85,1180.10 603.15,1175.90 603.15,1186.30 596.85,1190.50" fill="#ffffff"/><polygon points="596.85,1208.80 603.15,1204.60 603.15,1215.00 596.85,1219.20" fill="#ffffff"/><polygon points="596.85,1237.50 603.15,1233.30 603.15,1243.70 596.85,1247.90" fill="#ffffff"/><polygon points="596.85,1266.20 603.15,1262.00 603.15,1272.40 596.85,1276.60" fill="#ffffff"/><polygon points="596.85,1294.90 603.15,1290.70 603.15,1301.10 596.85,1305.30" fill="#ffffff"/><polygon points="596.85,1323.60 603.15,1319.40 603.15,1329.80 596.85,1334.00" fill="#ffffff"/><polygon points="596.85,1352.30 603.15,1348.10 603.15,1355.60 596.85,1355.60" fill="#ffffff"/><path d="M597.20,1130.20V1355.60M602.80,1130.20V1355.60" stroke="#8f8f8f" stroke-width="0.7" fill="none"/>
<rect x="596.85" y="1127.05" width="6.30" height="6.30" fill="#ffffff"/>
<path d="M603.15,1127.40H596.85M597.20,1133.35V1127.05" stroke="#8f8f8f" stroke-width="0.7" fill="none"/>
<rect x="768.00" y="826.15" width="443.60" height="6.30" fill="#d9232d"/><polygon points="768.40,826.15 778.80,826.15 774.60,832.45 768.00,832.45" fill="#ffffff"/><polygon points="796.90,826.15 807.30,826.15 803.10,832.45 792.70,832.45" fill="#ffffff"/><polygon points="825.40,826.15 835.80,826.15 831.60,832.45 821.20,832.45" fill="#ffffff"/><polygon points="853.90,826.15 864.30,826.15 860.10,832.45 849.70,832.45" fill="#ffffff"/><polygon points="882.40,826.15 892.80,826.15 888.60,832.45 878.20,832.45" fill="#ffffff"/><polygon points="910.90,826.15 921.30,826.15 917.10,832.45 906.70,832.45" fill="#ffffff"/><polygon points="939.40,826.15 949.80,826.15 945.60,832.45 935.20,832.45" fill="#ffffff"/><polygon points="967.90,826.15 978.30,826.15 974.10,832.45 963.70,832.45" fill="#ffffff"/><polygon points="996.40,826.15 1006.80,826.15 1002.60,832.45 992.20,832.45" fill="#ffffff"/><polygon points="1024.90,826.15 1035.30,826.15 1031.10,832.45 1020.70,832.45" fill="#ffffff"/><polygon points="1053.40,826.15 1063.80,826.15 1059.60,832.45 1049.20,832.45" fill="#ffffff"/><polygon points="1081.90,826.15 1092.30,826.15 1088.10,832.45 1077.70,832.45" fill="#ffffff"/><polygon points="1110.40,826.15 1120.80,826.15 1116.60,832.45 1106.20,832.45" fill="#ffffff"/><polygon points="1138.90,826.15 1149.30,826.15 1145.10,832.45 1134.70,832.45" fill="#ffffff"/><polygon points="1167.40,826.15 1177.80,826.15 1173.60,832.45 1163.20,832.45" fill="#ffffff"/><polygon points="1195.90,826.15 1206.30,826.15 1202.10,832.45 1191.70,832.45" fill="#ffffff"/><path d="M768.00,826.50H1211.60M768.00,832.10H1211.60" stroke="#8f8f8f" stroke-width="0.7" fill="none"/>
<rect x="1208.45" y="764.60" width="6.30" height="64.70" fill="#d9232d"/><polygon points="1208.45,764.60 1214.75,764.60 1214.75,764.60 1208.45,766.20" fill="#ffffff"/><polygon points="1208.45,784.30 1214.75,780.10 1214.75,790.50 1208.45,794.70" fill="#ffffff"/><polygon points="1208.45,812.80 1214.75,808.60 1214.75,819.00 1208.45,823.20" fill="#ffffff"/><path d="M1208.80,764.60V829.30M1214.40,764.60V829.30" stroke="#8f8f8f" stroke-width="0.7" fill="none"/>
<rect x="1208.45" y="826.15" width="6.30" height="6.30" fill="#d9232d"/>
<path d="M1208.45,832.10H1214.75M1214.40,826.15V832.45" stroke="#8f8f8f" stroke-width="0.7" fill="none"/>
<rect x="1208.45" y="650.40" width="6.30" height="80.90" fill="#d9232d"/><polygon points="1208.45,650.40 1214.75,650.40 1214.75,650.40 1208.45,653.50" fill="#ffffff"/><polygon points="1208.45,671.60 1214.75,667.40 1214.75,677.80 1208.45,682.00" fill="#ffffff"/><polygon points="1208.45,700.10 1214.75,695.90 1214.75,706.30 1208.45,710.50" fill="#ffffff"/><polygon points="1208.45,728.60 1214.75,724.40 1214.75,731.30 1208.45,731.30" fill="#ffffff"/><path d="M1208.80,650.40V731.30M1214.40,650.40V731.30" stroke="#8f8f8f" stroke-width="0.7" fill="none"/>
<rect x="128.85" y="1346.00" width="6.30" height="144.30" fill="#d9232d"/><polygon points="128.85,1357.80 135.15,1353.60 135.15,1364.00 128.85,1368.20" fill="#ffffff"/><polygon points="128.85,1386.37 135.15,1382.17 135.15,1392.57 128.85,1396.77" fill="#ffffff"/><polygon points="128.85,1414.94 135.15,1410.74 135.15,1421.14 128.85,1425.34" fill="#ffffff"/><polygon points="128.85,1443.51 135.15,1439.31 135.15,1449.71 128.85,1453.91" fill="#ffffff"/><polygon points="128.85,1472.08 135.15,1467.88 135.15,1478.28 128.85,1482.48" fill="#ffffff"/><path d="M129.20,1346.00V1490.30M134.80,1346.00V1490.30" stroke="#8f8f8f" stroke-width="0.7" fill="none"/>
<rect x="280.75" y="1346.00" width="6.30" height="144.30" fill="#d9232d"/><polygon points="280.75,1359.30 287.05,1355.10 287.05,1366.10 280.75,1370.30" fill="#2f9c4e"/><polygon points="280.75,1387.75 287.05,1383.55 287.05,1394.55 280.75,1398.75" fill="#2f9c4e"/><polygon points="280.75,1416.20 287.05,1412.00 287.05,1423.00 280.75,1427.20" fill="#2f9c4e"/><polygon points="280.75,1444.65 287.05,1440.45 287.05,1451.45 280.75,1455.65" fill="#2f9c4e"/><polygon points="280.75,1473.10 287.05,1468.90 287.05,1479.90 280.75,1484.10" fill="#2f9c4e"/><path d="M281.10,1346.00V1490.30M286.70,1346.00V1490.30" stroke="#9c2f2c" stroke-width="0.7" fill="none"/>
<path d="M163.6,0V25M156.3,12.3L163.6,24.4L170.9,12.3" stroke="#231f20" stroke-width="1.9" fill="none" />
<rect x="133.80" y="41.20" width="59.40" height="97.20" fill="#fbf5ab" stroke="#231f20" stroke-width="1.8"/>
<path d="M163.6,24V61.5M163.6,121V162" stroke="#231f20" stroke-width="1.9" fill="none" />
<path d="M160.6,70.5C155.5,76 156,84 162.5,91.5C169,99 172.5,106 166.6,113" stroke="#231f20" stroke-width="3.6" fill="none" stroke-linecap="round"/>
<circle cx="163.60" cy="65.80" r="3.8" fill="#fff" stroke="#231f20" stroke-width="2.0"/>
<circle cx="163.60" cy="117.00" r="3.8" fill="#fff" stroke="#231f20" stroke-width="2.0"/>
<polygon transform="translate(163.60,176.60) rotate(180)" points="0,0.3 -7.2,6.3 -7.3,16.6 0,12.4 7.3,16.6 7.2,6.3" fill="#231f20" stroke="#231f20" stroke-width="0.7" stroke-linejoin="round"/>
<rect x="146.10" y="177.70" width="35.2" height="25.6" rx="13.30" ry="12.80" fill="#fff" stroke="#231f20" stroke-width="1.9"/>
<path transform="translate(772.40,295.20) rotate(0)" d="M-11.7,-11.7L0,0L-11.7,11.7M-21.5,-11.7L-9.8,0L-21.5,11.7" stroke="#231f20" stroke-width="2.6" fill="none" stroke-linejoin="miter"/>
<rect x="773.85" y="283.35" width="47.00" height="21.70" fill="#c8e4d3" stroke="#1f2a24" stroke-width="2.1"/>
<polygon points="987.77,273.40 1005.83,273.40 1018.60,286.17 1018.60,304.23 1005.83,317.00 987.77,317.00 975.00,304.23 975.00,286.17" fill="#c8e4d3" stroke="#1f2a24" stroke-width="2.2"/>
<rect x="594.30" y="508.60" width="210.00" height="191.80" fill="#def0fb" stroke="#231f20" stroke-width="1.8"/>
<path d="M746.3,510V540.5M746.3,596V680M746.3,636.7H637.4V680M637.4,680V702M746.3,680V702" stroke="#231f20" stroke-width="1.9" fill="none" />
<circle cx="746.00" cy="568.40" r="27.50" fill="#fcf4a3" stroke="#33321f" stroke-width="1.9"/>
<path d="M746.30,540.90V554.95C755.18,554.95 758.14,561.00 758.14,568.40C756.64,561.47 737.67,561.82 737.67,568.40C737.67,574.98 756.64,575.33 758.14,568.40C758.14,575.80 755.18,581.85 746.30,581.85V595.90" stroke="#231f20" stroke-width="1.8" fill="none" stroke-linejoin="round"/>
<circle cx="746.30" cy="636.70" r="3.8" fill="#231f20"/>
<polygon points="624.6,657.2 650.1999999999999,657.2 637.4,679.4" fill="#231f20"/>
<path d="M624.1999999999999,679.6H650.6" stroke="#231f20" stroke-width="1.9" fill="none" />
<polygon points="733.5,657.2 759.0999999999999,657.2 746.3,679.4" fill="#231f20"/>
<path d="M733.0999999999999,679.6H759.5" stroke="#231f20" stroke-width="1.9" fill="none" />
<circle cx="746.50" cy="498.80" r="11.6" fill="#fff" stroke="#231f20" stroke-width="1.9"/>
<circle cx="637.40" cy="712.70" r="11.6" fill="#fff" stroke="#231f20" stroke-width="1.9"/>
<circle cx="746.50" cy="712.70" r="11.6" fill="#fff" stroke="#231f20" stroke-width="1.9"/>
<circle cx="535.00" cy="604.80" r="11.6" fill="#fff" stroke="#231f20" stroke-width="1.9"/>
<circle cx="535.00" cy="649.40" r="11.6" fill="#fff" stroke="#231f20" stroke-width="1.9"/>
<rect x="896.80" y="485.80" width="204.40" height="250.80" fill="#def0fb" stroke="#231f20" stroke-width="1.8"/>
<path d="M995.6,486V508.9M948.6,528.8V508.9H1050.0V528.8" stroke="#231f20" stroke-width="1.9" fill="none" />
<circle cx="995.80" cy="508.90" r="4.0" fill="#231f20"/>
<circle cx="945.40" cy="556.20" r="27.40" fill="#fcf4a3" stroke="#33321f" stroke-width="1.9"/>
<path d="M946.20,528.80V542.80C955.05,542.80 958.00,548.83 958.00,556.20C956.50,549.30 937.60,549.65 937.60,556.20C937.60,562.75 956.50,563.10 958.00,556.20C958.00,563.57 955.05,569.60 946.20,569.60V583.60" stroke="#231f20" stroke-width="1.8" fill="none" stroke-linejoin="round"/>
<circle cx="1047.30" cy="556.20" r="27.40" fill="#fcf4a3" stroke="#33321f" stroke-width="1.9"/>
<path d="M1047.80,528.80V542.80C1056.65,542.80 1059.60,548.83 1059.60,556.20C1058.10,549.30 1039.20,549.65 1039.20,556.20C1039.20,562.75 1058.10,563.10 1059.60,556.20C1059.60,563.57 1056.65,569.60 1047.80,569.60V583.60" stroke="#231f20" stroke-width="1.8" fill="none" stroke-linejoin="round"/>
<path d="M948.6,583.4V631M1050.0,583.4V631M999.0,610.8V631M948.6,610.8H1050.0" stroke="#231f20" stroke-width="1.9" fill="none" />
<polygon points="960.3,598.2 960.3,623.6 982.4,610.8" fill="#231f20"/>
<path d="M983.0,597.4V624.2" stroke="#231f20" stroke-width="1.9" fill="none" />
<polygon points="1038.2,598.2 1038.2,623.6 1016.2,610.8" fill="#231f20"/>
<path d="M1015.4,597.4V624.2" stroke="#231f20" stroke-width="1.9" fill="none" />
<circle cx="948.60" cy="610.80" r="3.9" fill="#231f20"/>
<circle cx="999.00" cy="610.80" r="3.9" fill="#231f20"/>
<circle cx="1050.00" cy="610.80" r="3.9" fill="#231f20"/>
<path d="M951.2,683.0L966.8000000000001,633.4" stroke="#231f20" stroke-width="3.5" fill="none" />
<circle cx="948.60" cy="636.40" r="5.0" fill="#fff" stroke="#231f20" stroke-width="2.0"/>
<path d="M1001.6,683.0L1017.2,633.4" stroke="#231f20" stroke-width="3.5" fill="none" />
<circle cx="999.00" cy="636.40" r="5.0" fill="#fff" stroke="#231f20" stroke-width="2.0"/>
<path d="M1052.6,683.0L1068.2,633.4" stroke="#231f20" stroke-width="3.5" fill="none" />
<circle cx="1050.00" cy="636.40" r="5.0" fill="#fff" stroke="#231f20" stroke-width="2.0"/>
<path d="M948.6,693.2V712.7H1050.0M999.0,693.2V736.6M1050.0,693.2V736.6" stroke="#231f20" stroke-width="1.9" fill="none" />
<circle cx="948.60" cy="688.20" r="5.0" fill="#fff" stroke="#231f20" stroke-width="2.0"/>
<circle cx="999.00" cy="688.20" r="5.0" fill="#fff" stroke="#231f20" stroke-width="2.0"/>
<circle cx="1050.00" cy="688.20" r="5.0" fill="#fff" stroke="#231f20" stroke-width="2.0"/>
<circle cx="1050.00" cy="712.70" r="3.9" fill="#231f20"/>
<rect x="1190.60" y="503.60" width="88.60" height="146.80" fill="#def0fb" stroke="#231f20" stroke-width="1.8"/>
<path d="M1235.0,504V520M1235.0,566.4V579" stroke="#231f20" stroke-width="1.9" fill="none" />
<circle cx="1234.70" cy="543.80" r="23.10" fill="#fcf4a3" stroke="#33321f" stroke-width="1.9"/>
<path d="M1235.10,520.70V532.50C1242.56,532.50 1245.05,537.59 1245.05,543.80C1243.78,537.98 1227.85,538.27 1227.85,543.80C1227.85,549.33 1243.78,549.62 1245.05,543.80C1245.05,550.01 1242.56,555.10 1235.10,555.10V566.90" stroke="#231f20" stroke-width="1.8" fill="none" stroke-linejoin="round"/>
<path d="M1233.8999999999999,588.0L1218.9,630.8" stroke="#231f20" stroke-width="3.5" fill="none" />
<circle cx="1235.30" cy="583.80" r="4.4" fill="#fff" stroke="#231f20" stroke-width="2.0"/>
<path d="M1212.2,630.8V650.4" stroke="#231f20" stroke-width="1.9" fill="none" />
<path d="M1257.80,630.80V666.40" stroke="#231f20" stroke-width="2.3" fill="none" />
<path d="M1239.20,666.40H1276.40" stroke="#231f20" stroke-width="2.5" fill="none" />
<path d="M1247.60,672.90H1268.00" stroke="#231f20" stroke-width="2.5" fill="none" />
<path d="M1253.10,679.10H1262.50" stroke="#231f20" stroke-width="2.8" fill="none" />
<circle cx="1212.20" cy="626.80" r="4.4" fill="#fff" stroke="#231f20" stroke-width="2.0"/>
<circle cx="1235.30" cy="626.80" r="4.1" fill="#fff" stroke="#231f20" stroke-width="2.0"/>
<circle cx="1257.80" cy="626.80" r="4.4" fill="#fff" stroke="#231f20" stroke-width="2.0"/>
<rect x="1191.05" y="731.95" width="46.80" height="21.30" fill="#c8e4d3" stroke="#1f2a24" stroke-width="2.1"/>
<path transform="translate(1211.60,755.20) rotate(270)" d="M-11.7,-11.7L0,0L-11.7,11.7M-21.5,-11.7L-9.8,0L-21.5,11.7" stroke="#231f20" stroke-width="2.6" fill="none" stroke-linejoin="miter"/>
<rect x="724.60" y="805.80" width="43.40" height="46.60" fill="#e3e3e4" stroke="#231f20" stroke-width="1.8"/>
<path d="M746.4,805.8V852.4M746.4,829.3H768" stroke="#231f20" stroke-width="1.9" fill="none" />
<circle cx="746.20" cy="829.30" r="3.2" fill="#231f20"/>
<path transform="translate(747.00,953.60) rotate(90)" d="M-11.7,-11.7L0,0L-11.7,11.7M-21.5,-11.7L-9.8,0L-21.5,11.7" stroke="#231f20" stroke-width="2.6" fill="none" stroke-linejoin="miter"/>
<rect x="723.05" y="955.05" width="47.00" height="21.40" fill="#c8e4d3" stroke="#1f2a24" stroke-width="2.1"/>
<polygon points="737.87,1025.30 755.93,1025.30 768.70,1038.07 768.70,1056.13 755.93,1068.90 737.87,1068.90 725.10,1056.13 725.10,1038.07" fill="#c8e4d3" stroke="#1f2a24" stroke-width="2.2"/>
<polygon points="737.87,1108.40 755.93,1108.40 768.70,1121.17 768.70,1139.23 755.93,1152.00 737.87,1152.00 725.10,1139.23 725.10,1121.17" fill="#c8e4d3" stroke="#1f2a24" stroke-width="2.2"/>
<path transform="translate(747.00,1224.40) rotate(90)" d="M-11.7,-11.7L0,0L-11.7,11.7M-21.5,-11.7L-9.8,0L-21.5,11.7" stroke="#231f20" stroke-width="2.6" fill="none" stroke-linejoin="miter"/>
<rect x="723.05" y="1225.75" width="47.00" height="21.70" fill="#c8e4d3" stroke="#1f2a24" stroke-width="2.1"/>
<rect x="976.55" y="955.05" width="47.40" height="21.80" fill="#c8e4d3" stroke="#1f2a24" stroke-width="2.1"/>
<rect x="1043.55" y="955.05" width="47.30" height="21.80" fill="#c8e4d3" stroke="#1f2a24" stroke-width="2.1"/>
<path transform="translate(998.80,978.80) rotate(270)" d="M-11.7,-11.7L0,0L-11.7,11.7M-21.5,-11.7L-9.8,0L-21.5,11.7" stroke="#231f20" stroke-width="2.6" fill="none" stroke-linejoin="miter"/>
<path transform="translate(1067.40,978.80) rotate(270)" d="M-11.7,-11.7L0,0L-11.7,11.7M-21.5,-11.7L-9.8,0L-21.5,11.7" stroke="#231f20" stroke-width="2.6" fill="none" stroke-linejoin="miter"/>
<rect x="146.60" y="811.40" width="35.2" height="25.6" rx="13.30" ry="12.80" fill="#fff" stroke="#231f20" stroke-width="1.9"/>
<rect x="239.60" y="811.40" width="35.2" height="25.6" rx="13.30" ry="12.80" fill="#fff" stroke="#231f20" stroke-width="1.9"/>
<rect x="324.10" y="811.40" width="35.2" height="25.6" rx="13.30" ry="12.80" fill="#fff" stroke="#231f20" stroke-width="1.9"/>
<polygon transform="translate(164.20,837.00) rotate(0)" points="0,0.3 -7.2,6.3 -7.3,16.6 0,12.4 7.3,16.6 7.2,6.3" fill="#231f20" stroke="#231f20" stroke-width="0.7" stroke-linejoin="round"/>
<polygon transform="translate(257.00,837.00) rotate(0)" points="0,0.3 -7.2,6.3 -7.3,16.6 0,12.4 7.3,16.6 7.2,6.3" fill="#231f20" stroke="#231f20" stroke-width="0.7" stroke-linejoin="round"/>
<polygon transform="translate(341.70,837.00) rotate(0)" points="0,0.3 -7.2,6.3 -7.3,16.6 0,12.4 7.3,16.6 7.2,6.3" fill="#231f20" stroke="#231f20" stroke-width="0.7" stroke-linejoin="round"/>
<path d="M164.2,852V901M257.0,852V876.9M341.7,852V876.9H164.2" stroke="#231f20" stroke-width="1.9" fill="none" />
<circle cx="164.20" cy="876.90" r="4.3" fill="#231f20"/>
<circle cx="257.00" cy="876.90" r="4.3" fill="#231f20"/>
<rect x="0.60" y="900.80" width="322.80" height="106.40" fill="#def0fb" stroke="#231f20" stroke-width="1.8"/>
<path d="M49.0,1007.2V1306M132.0,1007.2V1306M283.9,1007.2V1306" stroke="#231f20" stroke-width="1.9" fill="none" />
<rect x="261.80" y="1085.60" width="44.60" height="84.00" fill="#c8e4d3" stroke="#231f20" stroke-width="1.8"/>
<rect x="275.60" y="1107.20" width="17.20" height="40.80" fill="#fcf5ae" stroke="#231f20" stroke-width="1.8"/>
<path d="M283.9,1085.6V1169.6" stroke="#231f20" stroke-width="1.9" fill="none" />
<circle cx="283.90" cy="1211.20" r="4.0" fill="#231f20"/>
<circle cx="283.90" cy="1276.60" r="4.0" fill="#231f20"/>
<path d="M283.9,1211.0H384M283.9,1276.4H384" stroke="#231f20" stroke-width="1.9" fill="none" />
<polygon transform="translate(397.50,1211.00) rotate(90)" points="0,0.3 -7.2,6.3 -7.3,16.6 0,12.4 7.3,16.6 7.2,6.3" fill="#231f20" stroke="#231f20" stroke-width="0.7" stroke-linejoin="round"/>
<polygon transform="translate(397.50,1276.20) rotate(90)" points="0,0.3 -7.2,6.3 -7.3,16.6 0,12.4 7.3,16.6 7.2,6.3" fill="#231f20" stroke="#231f20" stroke-width="0.7" stroke-linejoin="round"/>
<rect x="398.00" y="1198.00" width="35.2" height="25.6" rx="13.30" ry="12.80" fill="#fff" stroke="#231f20" stroke-width="1.9"/>
<rect x="398.00" y="1263.20" width="35.2" height="25.6" rx="13.30" ry="12.80" fill="#fff" stroke="#231f20" stroke-width="1.9"/>
<polygon transform="translate(49.00,1321.00) rotate(180)" points="0,0.3 -7.2,6.3 -7.3,16.6 0,12.4 7.3,16.6 7.2,6.3" fill="#231f20" stroke="#231f20" stroke-width="0.7" stroke-linejoin="round"/>
<polygon transform="translate(132.00,1321.00) rotate(180)" points="0,0.3 -7.2,6.3 -7.3,16.6 0,12.4 7.3,16.6 7.2,6.3" fill="#231f20" stroke="#231f20" stroke-width="0.7" stroke-linejoin="round"/>
<polygon transform="translate(283.90,1321.00) rotate(180)" points="0,0.3 -7.2,6.3 -7.3,16.6 0,12.4 7.3,16.6 7.2,6.3" fill="#231f20" stroke="#231f20" stroke-width="0.7" stroke-linejoin="round"/>
<rect x="31.00" y="1320.60" width="35.2" height="25.6" rx="13.30" ry="12.80" fill="#fff" stroke="#231f20" stroke-width="1.9"/>
<rect x="114.40" y="1320.60" width="35.2" height="25.6" rx="13.30" ry="12.80" fill="#fff" stroke="#231f20" stroke-width="1.9"/>
<rect x="266.30" y="1320.60" width="35.2" height="25.6" rx="13.30" ry="12.80" fill="#fff" stroke="#231f20" stroke-width="1.9"/>
<rect x="109.90" y="1490.70" width="43.50" height="85.50" fill="#c4e2f6" stroke="#231f20" stroke-width="1.8"/>
<path d="M132.40,1490.30V1502.80M132.40,1559.10V1576.20" stroke="#231f20" stroke-width="2.0" fill="none" />
<path d="M134.00,1555.10L146.70,1500.90" stroke="#231f20" stroke-width="3.5" fill="none" />
<circle cx="132.40" cy="1502.80" r="4.05" fill="#fff" stroke="#231f20" stroke-width="2.0"/>
<circle cx="132.40" cy="1559.10" r="4.05" fill="#fff" stroke="#231f20" stroke-width="2.0"/>
<path d="M132.60,1576.20V1589.40" stroke="#231f20" stroke-width="2.3" fill="none" />
<path d="M114.00,1589.40H151.20" stroke="#231f20" stroke-width="2.5" fill="none" />
<path d="M122.40,1595.90H142.80" stroke="#231f20" stroke-width="2.5" fill="none" />
<path d="M127.90,1602.10H137.30" stroke="#231f20" stroke-width="2.8" fill="none" />
<rect x="261.70" y="1490.70" width="43.50" height="85.50" fill="#c4e2f6" stroke="#231f20" stroke-width="1.8"/>
<path d="M284.30,1490.30V1502.80M284.30,1559.10V1576.20" stroke="#231f20" stroke-width="2.0" fill="none" />
<path d="M285.90,1555.10L298.60,1500.90" stroke="#231f20" stroke-width="3.5" fill="none" />
<circle cx="284.30" cy="1502.80" r="4.05" fill="#fff" stroke="#231f20" stroke-width="2.0"/>
<circle cx="284.30" cy="1559.10" r="4.05" fill="#fff" stroke="#231f20" stroke-width="2.0"/>
<path d="M284.50,1576.20V1589.40" stroke="#231f20" stroke-width="2.3" fill="none" />
<path d="M265.90,1589.40H303.10" stroke="#231f20" stroke-width="2.5" fill="none" />
<path d="M274.30,1595.90H294.70" stroke="#231f20" stroke-width="2.5" fill="none" />
<path d="M279.80,1602.10H289.20" stroke="#231f20" stroke-width="2.8" fill="none" />
<rect x="512.40" y="1356.00" width="43.40" height="85.60" fill="#c4e2f6" stroke="#231f20" stroke-width="1.8"/>
<path d="M534.90,1355.60V1368.10M534.90,1424.40V1441.60" stroke="#231f20" stroke-width="2.0" fill="none" />
<path d="M536.50,1420.40L549.20,1366.20" stroke="#231f20" stroke-width="3.5" fill="none" />
<circle cx="534.90" cy="1368.10" r="4.05" fill="#fff" stroke="#231f20" stroke-width="2.0"/>
<circle cx="534.90" cy="1424.40" r="4.05" fill="#fff" stroke="#231f20" stroke-width="2.0"/>
<path d="M535.00,1441.60V1454.40" stroke="#231f20" stroke-width="2.3" fill="none" />
<path d="M516.40,1454.40H553.60" stroke="#231f20" stroke-width="2.5" fill="none" />
<path d="M524.80,1460.90H545.20" stroke="#231f20" stroke-width="2.5" fill="none" />
<path d="M530.30,1467.10H539.70" stroke="#231f20" stroke-width="2.8" fill="none" />
<rect x="578.00" y="1356.00" width="43.40" height="85.60" fill="#c4e2f6" stroke="#231f20" stroke-width="1.8"/>
<path d="M600.50,1355.60V1368.10M600.50,1424.40V1441.60" stroke="#231f20" stroke-width="2.0" fill="none" />
<path d="M602.10,1420.40L614.80,1366.20" stroke="#231f20" stroke-width="3.5" fill="none" />
<circle cx="600.50" cy="1368.10" r="4.05" fill="#fff" stroke="#231f20" stroke-width="2.0"/>
<circle cx="600.50" cy="1424.40" r="4.05" fill="#fff" stroke="#231f20" stroke-width="2.0"/>
<path d="M600.60,1441.60V1454.40" stroke="#231f20" stroke-width="2.3" fill="none" />
<path d="M582.00,1454.40H619.20" stroke="#231f20" stroke-width="2.5" fill="none" />
<path d="M590.40,1460.90H610.80" stroke="#231f20" stroke-width="2.5" fill="none" />
<path d="M595.90,1467.10H605.30" stroke="#231f20" stroke-width="2.8" fill="none" />
<rect x="725.60" y="1356.00" width="43.00" height="85.60" fill="#c4e2f6" stroke="#231f20" stroke-width="1.8"/>
<path d="M747.80,1355.60V1368.10M747.80,1424.40V1441.60" stroke="#231f20" stroke-width="2.0" fill="none" />
<path d="M749.40,1420.40L762.10,1366.20" stroke="#231f20" stroke-width="3.5" fill="none" />
<circle cx="747.80" cy="1368.10" r="4.05" fill="#fff" stroke="#231f20" stroke-width="2.0"/>
<circle cx="747.80" cy="1424.40" r="4.05" fill="#fff" stroke="#231f20" stroke-width="2.0"/>
<polygon points="739.17,1520.10 757.23,1520.10 770.00,1532.87 770.00,1550.93 757.23,1563.70 739.17,1563.70 726.40,1550.93 726.40,1532.87" fill="#c8e4d3" stroke="#1f2a24" stroke-width="2.2"/>
<rect x="828.75" y="1530.75" width="46.90" height="21.30" fill="#c8e4d3" stroke="#1f2a24" stroke-width="2.1"/>
<path transform="translate(877.20,1541.20) rotate(180)" d="M-11.7,-11.7L0,0L-11.7,11.7M-21.5,-11.7L-9.8,0L-21.5,11.7" stroke="#231f20" stroke-width="2.6" fill="none" stroke-linejoin="miter"/>
<rect x="1045.60" y="1346.80" width="43.80" height="46.80" fill="#e3e3e4" stroke="#231f20" stroke-width="1.8"/>
<path d="M1067.2,1346.8V1393.6" stroke="#231f20" stroke-width="1.9" fill="none" />
<polygon points="25.70,1635.60 71.50,1635.60 48.60,1667.20" fill="#fff" stroke="#231f20" stroke-width="2.0" stroke-linejoin="miter"/>
<path d="M48.60,1667.70V1680.70" stroke="#231f20" stroke-width="2.3" fill="none" />
<path d="M30.00,1680.70H67.20" stroke="#231f20" stroke-width="2.5" fill="none" />
<path d="M38.40,1687.20H58.80" stroke="#231f20" stroke-width="2.5" fill="none" />
<path d="M43.90,1693.40H53.30" stroke="#231f20" stroke-width="2.8" fill="none" />
<polygon points="724.60,1635.60 770.40,1635.60 747.50,1667.20" fill="#fff" stroke="#231f20" stroke-width="2.0" stroke-linejoin="miter"/>
<path d="M747.50,1667.70V1680.70" stroke="#231f20" stroke-width="2.3" fill="none" />
<path d="M728.90,1680.70H766.10" stroke="#231f20" stroke-width="2.5" fill="none" />
<path d="M737.30,1687.20H757.70" stroke="#231f20" stroke-width="2.5" fill="none" />
<path d="M742.80,1693.40H752.20" stroke="#231f20" stroke-width="2.8" fill="none" />
<polygon points="917.50,1635.80 963.30,1635.80 940.40,1667.40" fill="#fff" stroke="#231f20" stroke-width="2.0" stroke-linejoin="miter"/>
<path d="M940.40,1667.90V1680.90" stroke="#231f20" stroke-width="2.3" fill="none" />
<path d="M921.80,1680.90H959.00" stroke="#231f20" stroke-width="2.5" fill="none" />
<path d="M930.20,1687.40H950.60" stroke="#231f20" stroke-width="2.5" fill="none" />
<path d="M935.70,1693.60H945.10" stroke="#231f20" stroke-width="2.8" fill="none" />
<polygon points="1044.50,1635.80 1090.30,1635.80 1067.40,1667.40" fill="#fff" stroke="#231f20" stroke-width="2.0" stroke-linejoin="miter"/>
<path d="M1067.40,1667.90V1680.90" stroke="#231f20" stroke-width="2.3" fill="none" />
<path d="M1048.80,1680.90H1086.00" stroke="#231f20" stroke-width="2.5" fill="none" />
<path d="M1057.20,1687.40H1077.60" stroke="#231f20" stroke-width="2.5" fill="none" />
<path d="M1062.70,1693.60H1072.10" stroke="#231f20" stroke-width="2.8" fill="none" />
<g opacity="0.999">
<text transform="translate(141.80,33.84) scale(0.75,1)" font-size="20" font-weight="normal" text-anchor="middle" fill="#231f20" stroke="#231f20" stroke-width="0.45">18</text>
<text transform="translate(141.80,161.84) scale(0.75,1)" font-size="20" font-weight="normal" text-anchor="middle" fill="#231f20" stroke="#231f20" stroke-width="0.45">19</text>
<text transform="translate(210.50,96.94) scale(0.75,1)" font-size="20" font-weight="normal" text-anchor="start" fill="#231f20" stroke="#231f20" stroke-width="0.45">15A</text>
<text transform="translate(210.50,119.34) scale(0.75,1)" font-size="20" font-weight="normal" text-anchor="start" fill="#231f20" stroke="#231f20" stroke-width="0.45">DOME</text>
<text transform="translate(163.90,196.92) scale(0.87,1)" font-size="18.2" font-weight="bold" text-anchor="middle" fill="#231f20" stroke="#231f20" stroke-width="0.7">2</text>
<text transform="translate(797.35,301.14) scale(0.75,1)" font-size="20" font-weight="normal" text-anchor="middle" fill="#231f20" stroke="#231f20" stroke-width="0.45">IE1</text>
<text transform="translate(797.60,277.14) scale(0.75,1)" font-size="20" font-weight="normal" text-anchor="middle" fill="#231f20" stroke="#231f20" stroke-width="0.45">5</text>
<text transform="translate(997.10,302.14) scale(0.75,1)" font-size="20" font-weight="normal" text-anchor="middle" fill="#231f20" stroke="#231f20" stroke-width="0.45">B1</text>
<text transform="translate(746.50,505.63) scale(0.76,1)" font-size="19.4" font-weight="normal" text-anchor="middle" fill="#231f20" stroke="#231f20" stroke-width="0.45">B</text>
<text transform="translate(637.40,719.53) scale(0.76,1)" font-size="19.4" font-weight="normal" text-anchor="middle" fill="#231f20" stroke="#231f20" stroke-width="0.45">A</text>
<text transform="translate(746.50,719.53) scale(0.76,1)" font-size="19.4" font-weight="normal" text-anchor="middle" fill="#231f20" stroke="#231f20" stroke-width="0.45">A</text>
<text transform="translate(720.50,502.54) scale(0.75,1)" font-size="20" font-weight="normal" text-anchor="middle" fill="#231f20" stroke="#231f20" stroke-width="0.45">2</text>
<text transform="translate(608.50,720.54) scale(0.75,1)" font-size="20" font-weight="normal" text-anchor="middle" fill="#231f20" stroke="#231f20" stroke-width="0.45">11</text>
<text transform="translate(718.50,719.94) scale(0.75,1)" font-size="20" font-weight="normal" text-anchor="middle" fill="#231f20" stroke="#231f20" stroke-width="0.45">12</text>
<text transform="translate(480.20,611.54) scale(0.75,1)" font-size="20" font-weight="normal" text-anchor="start" fill="#231f20" stroke="#231f20" stroke-width="0.45">C10</text>
<text transform="translate(480.20,656.04) scale(0.75,1)" font-size="20" font-weight="normal" text-anchor="start" fill="#231f20" stroke="#231f20" stroke-width="0.45">C11</text>
<text transform="translate(535.00,611.63) scale(0.76,1)" font-size="19.4" font-weight="normal" text-anchor="middle" fill="#231f20" stroke="#231f20" stroke-width="0.45">A</text>
<text transform="translate(535.00,656.23) scale(0.76,1)" font-size="19.4" font-weight="normal" text-anchor="middle" fill="#231f20" stroke="#231f20" stroke-width="0.45">B</text>
<text transform="translate(573.50,621.84) scale(1.1,1)" font-size="22.6" font-weight="bold" text-anchor="middle" fill="#231f20" stroke="#231f20" stroke-width="0.3">4</text>
<text transform="translate(977.50,475.94) scale(0.75,1)" font-size="20" font-weight="normal" text-anchor="middle" fill="#231f20" stroke="#231f20" stroke-width="0.45">1</text>
<text transform="translate(870.50,621.04) scale(1.1,1)" font-size="22.6" font-weight="bold" text-anchor="middle" fill="#231f20" stroke="#231f20" stroke-width="0.3">5</text>
<text transform="translate(864.80,715.54) scale(0.75,1)" font-size="20" font-weight="normal" text-anchor="middle" fill="#231f20" stroke="#231f20" stroke-width="0.45">P3</text>
<text transform="translate(979.60,760.94) scale(0.75,1)" font-size="20" font-weight="normal" text-anchor="middle" fill="#231f20" stroke="#231f20" stroke-width="0.45">3</text>
<text transform="translate(1035.20,759.94) scale(0.75,1)" font-size="20" font-weight="normal" text-anchor="middle" fill="#231f20" stroke="#231f20" stroke-width="0.45">2</text>
<text transform="translate(1210.10,615.90) rotate(-90) translate(0,5.50) scale(0.78,1)" font-size="17" font-weight="normal" text-anchor="start" fill="#231f20" stroke="#231f20" stroke-width="0.45">DOOR</text>
<text transform="translate(1242.90,615.90) rotate(-90) translate(0,5.50) scale(0.78,1)" font-size="17" font-weight="normal" text-anchor="start" fill="#231f20" stroke="#231f20" stroke-width="0.45">OFF</text>
<text transform="translate(1265.00,615.90) rotate(-90) translate(0,5.50) scale(0.78,1)" font-size="17" font-weight="normal" text-anchor="start" fill="#231f20" stroke="#231f20" stroke-width="0.45">ON</text>
<text transform="translate(1166.00,578.04) scale(1.1,1)" font-size="22.6" font-weight="bold" text-anchor="middle" fill="#231f20" stroke="#231f20" stroke-width="0.3">11</text>
<text transform="translate(1165.00,636.74) scale(0.75,1)" font-size="20" font-weight="normal" text-anchor="middle" fill="#231f20" stroke="#231f20" stroke-width="0.45">I11</text>
<text transform="translate(1217.20,493.74) scale(0.75,1)" font-size="20" font-weight="normal" text-anchor="middle" fill="#231f20" stroke="#231f20" stroke-width="0.45">2</text>
<text transform="translate(1197.60,673.34) scale(0.75,1)" font-size="20" font-weight="normal" text-anchor="middle" fill="#231f20" stroke="#231f20" stroke-width="0.45">1</text>
<text transform="translate(1214.45,749.54) scale(0.75,1)" font-size="20" font-weight="normal" text-anchor="middle" fill="#231f20" stroke="#231f20" stroke-width="0.45">IE1</text>
<text transform="translate(1181.30,750.14) scale(0.75,1)" font-size="20" font-weight="normal" text-anchor="middle" fill="#231f20" stroke="#231f20" stroke-width="0.45">2</text>
<text transform="translate(728.80,800.34) scale(0.75,1)" font-size="20" font-weight="normal" text-anchor="middle" fill="#231f20" stroke="#231f20" stroke-width="0.45">C</text>
<text transform="translate(778.80,811.74) scale(0.75,1)" font-size="20" font-weight="normal" text-anchor="middle" fill="#231f20" stroke="#231f20" stroke-width="0.45">C</text>
<text transform="translate(728.20,871.74) scale(0.75,1)" font-size="20" font-weight="normal" text-anchor="middle" fill="#231f20" stroke="#231f20" stroke-width="0.45">C</text>
<text transform="translate(788.80,856.14) scale(0.75,1)" font-size="20" font-weight="normal" text-anchor="middle" fill="#231f20" stroke="#231f20" stroke-width="0.45">J4</text>
<text transform="translate(771.40,881.64) scale(1.1,1)" font-size="22.6" font-weight="bold" text-anchor="middle" fill="#231f20" stroke="#231f20" stroke-width="0.3">6</text>
<text transform="translate(746.55,972.69) scale(0.75,1)" font-size="20" font-weight="normal" text-anchor="middle" fill="#231f20" stroke="#231f20" stroke-width="0.45">ID1</text>
<text transform="translate(710.60,974.14) scale(0.75,1)" font-size="20" font-weight="normal" text-anchor="middle" fill="#231f20" stroke="#231f20" stroke-width="0.45">6</text>
<text transform="translate(747.20,1054.04) scale(0.75,1)" font-size="20" font-weight="normal" text-anchor="middle" fill="#231f20" stroke="#231f20" stroke-width="0.45">B12</text>
<text transform="translate(747.20,1137.14) scale(0.75,1)" font-size="20" font-weight="normal" text-anchor="middle" fill="#231f20" stroke="#231f20" stroke-width="0.45">B9</text>
<text transform="translate(640.50,1075.54) scale(0.9117999999999999,1)" font-size="20" font-weight="normal" text-anchor="middle" fill="#231f20" stroke="#231f20" stroke-width="0.45">(*1)</text>
<text transform="translate(746.55,1243.54) scale(0.75,1)" font-size="20" font-weight="normal" text-anchor="middle" fill="#231f20" stroke="#231f20" stroke-width="0.45">BK2</text>
<text transform="translate(710.60,1244.14) scale(0.75,1)" font-size="20" font-weight="normal" text-anchor="middle" fill="#231f20" stroke="#231f20" stroke-width="0.45">3</text>
<text transform="translate(560.60,1309.34) scale(0.9117999999999999,1)" font-size="20" font-weight="normal" text-anchor="middle" fill="#231f20" stroke="#231f20" stroke-width="0.45">(*1)</text>
<text transform="translate(624.00,1309.34) scale(0.9117999999999999,1)" font-size="20" font-weight="normal" text-anchor="middle" fill="#231f20" stroke="#231f20" stroke-width="0.45">(*1)</text>
<text transform="translate(1000.25,972.89) scale(0.75,1)" font-size="20" font-weight="normal" text-anchor="middle" fill="#231f20" stroke="#231f20" stroke-width="0.45">IE1</text>
<text transform="translate(1067.20,972.89) scale(0.75,1)" font-size="20" font-weight="normal" text-anchor="middle" fill="#231f20" stroke="#231f20" stroke-width="0.45">IE1</text>
<text transform="translate(964.00,973.74) scale(0.75,1)" font-size="20" font-weight="normal" text-anchor="middle" fill="#231f20" stroke="#231f20" stroke-width="0.45">3</text>
<text transform="translate(1033.80,973.74) scale(0.75,1)" font-size="20" font-weight="normal" text-anchor="middle" fill="#231f20" stroke="#231f20" stroke-width="0.45">6</text>
<text transform="translate(165.20,830.62) scale(0.87,1)" font-size="18.2" font-weight="bold" text-anchor="middle" fill="#231f20" stroke="#231f20" stroke-width="0.7">1J</text>
<text transform="translate(258.20,830.62) scale(0.87,1)" font-size="18.2" font-weight="bold" text-anchor="middle" fill="#231f20" stroke="#231f20" stroke-width="0.7">1A</text>
<text transform="translate(342.70,830.62) scale(0.87,1)" font-size="18.2" font-weight="bold" text-anchor="middle" fill="#231f20" stroke="#231f20" stroke-width="0.7">1B</text>
<text transform="translate(129.20,834.34) scale(0.75,1)" font-size="20" font-weight="normal" text-anchor="middle" fill="#231f20" stroke="#231f20" stroke-width="0.45">5</text>
<text transform="translate(222.00,834.34) scale(0.75,1)" font-size="20" font-weight="normal" text-anchor="middle" fill="#231f20" stroke="#231f20" stroke-width="0.45">3</text>
<text transform="translate(306.40,834.34) scale(0.75,1)" font-size="20" font-weight="normal" text-anchor="middle" fill="#231f20" stroke="#231f20" stroke-width="0.45">9</text>
<text transform="translate(151.00,894.54) scale(0.75,1)" font-size="20" font-weight="normal" text-anchor="middle" fill="#231f20" stroke="#231f20" stroke-width="0.45">1</text>
<text transform="translate(155.40,960.84) scale(1.1,1)" font-size="22.6" font-weight="bold" text-anchor="middle" fill="#231f20" stroke="#231f20" stroke-width="0.3">3</text>
<text transform="translate(31.20,1033.54) scale(0.75,1)" font-size="20" font-weight="normal" text-anchor="middle" fill="#231f20" stroke="#231f20" stroke-width="0.45">10</text>
<text transform="translate(115.00,1033.54) scale(0.75,1)" font-size="20" font-weight="normal" text-anchor="middle" fill="#231f20" stroke="#231f20" stroke-width="0.45">6</text>
<text transform="translate(266.60,1033.54) scale(0.75,1)" font-size="20" font-weight="normal" text-anchor="middle" fill="#231f20" stroke="#231f20" stroke-width="0.45">4</text>
<text transform="translate(323.60,1167.40) rotate(-90) translate(0,6.54) scale(0.75,1)" font-size="20" font-weight="normal" text-anchor="start" fill="#231f20" stroke="#231f20" stroke-width="0.45">SHORT PIN</text>
<text transform="translate(267.80,1077.34) scale(0.75,1)" font-size="20" font-weight="normal" text-anchor="middle" fill="#231f20" stroke="#231f20" stroke-width="0.45">2</text>
<text transform="translate(266.00,1194.54) scale(0.75,1)" font-size="20" font-weight="normal" text-anchor="middle" fill="#231f20" stroke="#231f20" stroke-width="0.45">1</text>
<text transform="translate(416.60,1217.22) scale(0.87,1)" font-size="18.2" font-weight="bold" text-anchor="middle" fill="#231f20" stroke="#231f20" stroke-width="0.7">1B</text>
<text transform="translate(416.60,1282.42) scale(0.87,1)" font-size="18.2" font-weight="bold" text-anchor="middle" fill="#231f20" stroke="#231f20" stroke-width="0.7">1A</text>
<text transform="translate(415.80,1191.54) scale(0.75,1)" font-size="20" font-weight="normal" text-anchor="middle" fill="#231f20" stroke="#231f20" stroke-width="0.45">20</text>
<text transform="translate(415.20,1256.34) scale(0.75,1)" font-size="20" font-weight="normal" text-anchor="middle" fill="#231f20" stroke="#231f20" stroke-width="0.45">2</text>
<text transform="translate(49.60,1339.82) scale(0.87,1)" font-size="18.2" font-weight="bold" text-anchor="middle" fill="#231f20" stroke="#231f20" stroke-width="0.7">1H</text>
<text transform="translate(133.00,1339.82) scale(0.87,1)" font-size="18.2" font-weight="bold" text-anchor="middle" fill="#231f20" stroke="#231f20" stroke-width="0.7">1L</text>
<text transform="translate(284.90,1339.82) scale(0.87,1)" font-size="18.2" font-weight="bold" text-anchor="middle" fill="#231f20" stroke="#231f20" stroke-width="0.7">1L</text>
<text transform="translate(10.80,1339.74) scale(0.75,1)" font-size="20" font-weight="normal" text-anchor="middle" fill="#231f20" stroke="#231f20" stroke-width="0.45">7</text>
<text transform="translate(94.20,1339.74) scale(0.75,1)" font-size="20" font-weight="normal" text-anchor="middle" fill="#231f20" stroke="#231f20" stroke-width="0.45">5</text>
<text transform="translate(251.60,1339.74) scale(0.75,1)" font-size="20" font-weight="normal" text-anchor="middle" fill="#231f20" stroke="#231f20" stroke-width="0.45">18</text>
<text transform="translate(108.80,1482.94) scale(0.75,1)" font-size="20" font-weight="normal" text-anchor="middle" fill="#231f20" stroke="#231f20" stroke-width="0.45">1</text>
<text transform="translate(175.60,1537.44) scale(1.1,1)" font-size="22.6" font-weight="bold" text-anchor="middle" fill="#231f20" stroke="#231f20" stroke-width="0.3">1</text>
<text transform="translate(174.20,1571.54) scale(0.75,1)" font-size="20" font-weight="normal" text-anchor="middle" fill="#231f20" stroke="#231f20" stroke-width="0.45">D6</text>
<text transform="translate(261.00,1482.94) scale(0.75,1)" font-size="20" font-weight="normal" text-anchor="middle" fill="#231f20" stroke="#231f20" stroke-width="0.45">1</text>
<text transform="translate(327.20,1537.44) scale(1.1,1)" font-size="22.6" font-weight="bold" text-anchor="middle" fill="#231f20" stroke="#231f20" stroke-width="0.3">2</text>
<text transform="translate(325.80,1571.54) scale(0.75,1)" font-size="20" font-weight="normal" text-anchor="middle" fill="#231f20" stroke="#231f20" stroke-width="0.45">D7</text>
<text transform="translate(512.00,1347.54) scale(0.75,1)" font-size="20" font-weight="normal" text-anchor="middle" fill="#231f20" stroke="#231f20" stroke-width="0.45">1</text>
<text transform="translate(495.60,1402.24) scale(1.1,1)" font-size="22.6" font-weight="bold" text-anchor="middle" fill="#231f20" stroke="#231f20" stroke-width="0.3">7</text>
<text transform="translate(492.60,1449.14) scale(0.75,1)" font-size="20" font-weight="normal" text-anchor="middle" fill="#231f20" stroke="#231f20" stroke-width="0.45">D8</text>
<text transform="translate(577.00,1347.54) scale(0.75,1)" font-size="20" font-weight="normal" text-anchor="middle" fill="#231f20" stroke="#231f20" stroke-width="0.45">1</text>
<text transform="translate(642.60,1402.24) scale(1.1,1)" font-size="22.6" font-weight="bold" text-anchor="middle" fill="#231f20" stroke="#231f20" stroke-width="0.3">8</text>
<text transform="translate(646.40,1449.14) scale(0.75,1)" font-size="20" font-weight="normal" text-anchor="middle" fill="#231f20" stroke="#231f20" stroke-width="0.45">D9</text>
<text transform="translate(728.00,1346.74) scale(0.75,1)" font-size="20" font-weight="normal" text-anchor="middle" fill="#231f20" stroke="#231f20" stroke-width="0.45">2</text>
<text transform="translate(792.60,1369.34) scale(0.75,1)" font-size="20" font-weight="normal" text-anchor="middle" fill="#231f20" stroke="#231f20" stroke-width="0.45">B7</text>
<text transform="translate(788.40,1402.24) scale(1.1,1)" font-size="22.6" font-weight="bold" text-anchor="middle" fill="#231f20" stroke="#231f20" stroke-width="0.3">9</text>
<text transform="translate(727.60,1463.14) scale(0.75,1)" font-size="20" font-weight="normal" text-anchor="middle" fill="#231f20" stroke="#231f20" stroke-width="0.45">4</text>
<text transform="translate(748.50,1548.84) scale(0.75,1)" font-size="20" font-weight="normal" text-anchor="middle" fill="#231f20" stroke="#231f20" stroke-width="0.45">B10</text>
<text transform="translate(852.20,1548.34) scale(0.75,1)" font-size="20" font-weight="normal" text-anchor="middle" fill="#231f20" stroke="#231f20" stroke-width="0.45">BK2</text>
<text transform="translate(850.60,1525.74) scale(0.75,1)" font-size="20" font-weight="normal" text-anchor="middle" fill="#231f20" stroke="#231f20" stroke-width="0.45">2</text>
<text transform="translate(1049.40,1342.14) scale(0.75,1)" font-size="20" font-weight="normal" text-anchor="middle" fill="#231f20" stroke="#231f20" stroke-width="0.45">A</text>
<text transform="translate(1049.40,1414.14) scale(0.75,1)" font-size="20" font-weight="normal" text-anchor="middle" fill="#231f20" stroke="#231f20" stroke-width="0.45">A</text>
<text transform="translate(1112.00,1357.14) scale(0.75,1)" font-size="20" font-weight="normal" text-anchor="middle" fill="#231f20" stroke="#231f20" stroke-width="0.45">J10</text>
<text transform="translate(1117.60,1384.24) scale(1.1,1)" font-size="22.6" font-weight="bold" text-anchor="middle" fill="#231f20" stroke="#231f20" stroke-width="0.3">10</text>
<text transform="translate(48.80,1652.73) scale(0.86,1)" font-size="14.2" font-weight="bold" text-anchor="middle" fill="#231f20" stroke="#231f20" stroke-width="0.55">ID</text>
<text transform="translate(747.70,1652.73) scale(0.86,1)" font-size="14.2" font-weight="bold" text-anchor="middle" fill="#231f20" stroke="#231f20" stroke-width="0.55">BJ</text>
<text transform="translate(940.60,1652.93) scale(0.86,1)" font-size="14.2" font-weight="bold" text-anchor="middle" fill="#231f20" stroke="#231f20" stroke-width="0.55">BI</text>
<text transform="translate(1067.60,1652.93) scale(0.86,1)" font-size="14.2" font-weight="bold" text-anchor="middle" fill="#231f20" stroke="#231f20" stroke-width="0.55">IG</text>
</g>
</svg>
</body></html>
